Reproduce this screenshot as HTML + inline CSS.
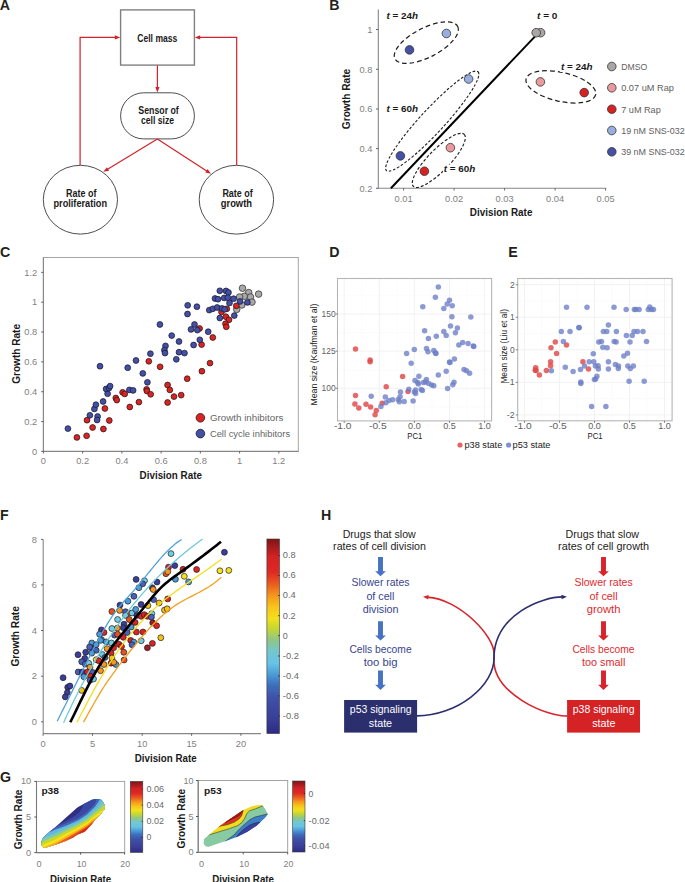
<!DOCTYPE html>
<html><head><meta charset="utf-8"><title>Figure</title>
<style>
html,body{margin:0;padding:0;background:#fff;}
body{width:685px;height:882px;overflow:hidden;}
svg{display:block;}
svg text{font-family:"Liberation Sans", sans-serif;}
</style></head>
<body>
<svg width="685" height="882" viewBox="0 0 685 882">
<rect x="0" y="0" width="685" height="882" fill="#fff"/>
<text x="-0.20" y="9.70" font-size="14.2" font-weight="bold" fill="#231f20">A</text>
<rect x="120.6" y="9.9" width="73.8" height="55.2" fill="#fff" stroke="#808080" stroke-width="1.4"/>
<rect x="120.6" y="92.8" width="73.8" height="46.1" rx="23" ry="23" fill="#fff" stroke="#3a3a3a" stroke-width="0.9"/>
<ellipse cx="80.4" cy="199.7" rx="37.1" ry="34.4" fill="#fff" stroke="#3a3a3a" stroke-width="0.9"/>
<ellipse cx="236.4" cy="199.7" rx="37.2" ry="34.4" fill="#fff" stroke="#3a3a3a" stroke-width="0.9"/>
<polyline points="80.1,165.3 80.1,37.4 115.5,37.4" fill="none" stroke="#d0232b" stroke-width="1.2"/>
<polygon points="120.30,37.40 114.80,39.50 114.80,35.30" fill="#d0232b" stroke="none" stroke-width="1"/>
<polyline points="236.7,165.3 236.7,37.4 199.5,37.4" fill="none" stroke="#d0232b" stroke-width="1.2"/>
<polygon points="194.70,37.40 200.20,35.30 200.20,39.50" fill="#d0232b" stroke="none" stroke-width="1"/>
<line x1="157.40" y1="65.60" x2="157.40" y2="88.00" stroke="#d0232b" stroke-width="1.2"/>
<polygon points="157.40,92.60 155.30,87.10 159.50,87.10" fill="#d0232b" stroke="none" stroke-width="1"/>
<line x1="157.40" y1="139.00" x2="107.60" y2="169.20" stroke="#d0232b" stroke-width="1.2"/>
<polygon points="103.30,171.80 106.91,167.15 109.09,170.74" fill="#d0232b" stroke="none" stroke-width="1"/>
<line x1="157.40" y1="139.00" x2="206.70" y2="171.00" stroke="#d0232b" stroke-width="1.2"/>
<polygon points="211.00,173.80 205.24,172.57 207.53,169.04" fill="#d0232b" stroke="none" stroke-width="1"/>
<text x="137.30" y="41.50" font-size="10.4" font-weight="bold" textLength="40.00" lengthAdjust="spacingAndGlyphs" fill="#1a1a1a">Cell mass</text>
<text x="138.30" y="113.70" font-size="10.3" font-weight="bold" textLength="40.50" lengthAdjust="spacingAndGlyphs" fill="#1a1a1a">Sensor of</text>
<text x="141.00" y="123.90" font-size="10.3" font-weight="bold" textLength="33.10" lengthAdjust="spacingAndGlyphs" fill="#1a1a1a">cell size</text>
<text x="66.10" y="197.20" font-size="10.3" font-weight="bold" textLength="30.30" lengthAdjust="spacingAndGlyphs" fill="#1a1a1a">Rate of</text>
<text x="53.50" y="207.40" font-size="10.3" font-weight="bold" textLength="53.50" lengthAdjust="spacingAndGlyphs" fill="#1a1a1a">proliferation</text>
<text x="222.40" y="197.20" font-size="10.3" font-weight="bold" textLength="30.30" lengthAdjust="spacingAndGlyphs" fill="#1a1a1a">Rate of</text>
<text x="220.80" y="207.40" font-size="10.3" font-weight="bold" textLength="31.20" lengthAdjust="spacingAndGlyphs" fill="#1a1a1a">growth</text>
<text x="329.20" y="9.90" font-size="14.2" font-weight="bold" fill="#231f20">B</text>
<line x1="378.30" y1="9.50" x2="378.30" y2="188.30" stroke="#868686" stroke-width="1.1"/>
<line x1="377.80" y1="188.30" x2="606.20" y2="188.30" stroke="#868686" stroke-width="1.1"/>
<line x1="376.00" y1="29.50" x2="378.30" y2="29.50" stroke="#555" stroke-width="0.9"/>
<text x="372.40" y="32.70" font-size="9.3" text-anchor="end" fill="#7f7f7f">1</text>
<line x1="376.00" y1="69.30" x2="378.30" y2="69.30" stroke="#555" stroke-width="0.9"/>
<text x="372.40" y="72.50" font-size="9.3" text-anchor="end" fill="#7f7f7f">0.8</text>
<line x1="376.00" y1="109.00" x2="378.30" y2="109.00" stroke="#555" stroke-width="0.9"/>
<text x="372.40" y="112.20" font-size="9.3" text-anchor="end" fill="#7f7f7f">0.6</text>
<line x1="376.00" y1="148.60" x2="378.30" y2="148.60" stroke="#555" stroke-width="0.9"/>
<text x="372.40" y="151.80" font-size="9.3" text-anchor="end" fill="#7f7f7f">0.4</text>
<line x1="376.00" y1="188.30" x2="378.30" y2="188.30" stroke="#555" stroke-width="0.9"/>
<text x="372.40" y="191.50" font-size="9.3" text-anchor="end" fill="#7f7f7f">0.2</text>
<line x1="403.60" y1="188.30" x2="403.60" y2="190.50" stroke="#555" stroke-width="0.9"/>
<text x="403.60" y="202.20" font-size="9.3" text-anchor="middle" fill="#7f7f7f">0.01</text>
<line x1="454.10" y1="188.30" x2="454.10" y2="190.50" stroke="#555" stroke-width="0.9"/>
<text x="454.10" y="202.20" font-size="9.3" text-anchor="middle" fill="#7f7f7f">0.02</text>
<line x1="504.60" y1="188.30" x2="504.60" y2="190.50" stroke="#555" stroke-width="0.9"/>
<text x="504.60" y="202.20" font-size="9.3" text-anchor="middle" fill="#7f7f7f">0.03</text>
<line x1="555.10" y1="188.30" x2="555.10" y2="190.50" stroke="#555" stroke-width="0.9"/>
<text x="555.10" y="202.20" font-size="9.3" text-anchor="middle" fill="#7f7f7f">0.04</text>
<line x1="605.60" y1="188.30" x2="605.60" y2="190.50" stroke="#555" stroke-width="0.9"/>
<text x="605.60" y="202.20" font-size="9.3" text-anchor="middle" fill="#7f7f7f">0.05</text>
<text x="469.80" y="216.30" font-size="10.6" font-weight="bold" textLength="62.60" lengthAdjust="spacingAndGlyphs" fill="#1a1a1a">Division Rate</text>
<text x="349.60" y="129.20" font-size="10.6" font-weight="bold" textLength="60.40" lengthAdjust="spacingAndGlyphs" transform="rotate(-90 349.60 129.20)" fill="#1a1a1a">Growth Rate</text>
<ellipse cx="426.34" cy="42.62" rx="35.3" ry="14.6" transform="rotate(-27.3 426.34 42.62)" fill="none" stroke="#1f1f1f" stroke-width="1.25" stroke-dasharray="4.6 3.0"/>
<ellipse cx="432.27" cy="121.19" rx="67.4" ry="11.9" transform="rotate(-47.2 432.27 121.19)" fill="none" stroke="#1f1f1f" stroke-width="1.1" stroke-dasharray="2.7 1.8"/>
<ellipse cx="438.81" cy="160.41" rx="36.4" ry="10.7" transform="rotate(-45.7 438.81 160.41)" fill="none" stroke="#1f1f1f" stroke-width="1.15" stroke-dasharray="3.0 1.9"/>
<ellipse cx="560.87" cy="86.88" rx="35.7" ry="14.5" transform="rotate(12.7 560.87 86.88)" fill="none" stroke="#1f1f1f" stroke-width="1.25" stroke-dasharray="4.8 3.0"/>
<line x1="390.90" y1="188.30" x2="536.00" y2="35.40" stroke="#000" stroke-width="2.0"/>
<circle cx="540.60" cy="32.70" r="4.3" fill="#aaa6a6" stroke="#333333" stroke-width="0.8"/>
<circle cx="536.20" cy="32.70" r="4.3" fill="#aaa6a6" stroke="#333333" stroke-width="0.8"/>
<circle cx="540.40" cy="81.90" r="4.3" fill="#e89a9c" stroke="#333333" stroke-width="0.8"/>
<circle cx="450.40" cy="147.70" r="4.3" fill="#e89a9c" stroke="#333333" stroke-width="0.8"/>
<circle cx="584.20" cy="92.60" r="4.3" fill="#d82222" stroke="#333333" stroke-width="0.8"/>
<circle cx="424.40" cy="171.20" r="4.3" fill="#d82222" stroke="#333333" stroke-width="0.8"/>
<circle cx="446.40" cy="33.50" r="4.3" fill="#98aee0" stroke="#333333" stroke-width="0.8"/>
<circle cx="468.60" cy="79.00" r="4.3" fill="#98aee0" stroke="#333333" stroke-width="0.8"/>
<circle cx="409.50" cy="49.90" r="4.3" fill="#4451a5" stroke="#333333" stroke-width="0.8"/>
<circle cx="400.40" cy="155.90" r="4.3" fill="#4451a5" stroke="#333333" stroke-width="0.8"/>
<rect x="385.60" y="11.00" width="33.20" height="10" fill="#fff"/>
<text x="386.40" y="19.00" font-size="9.3" font-weight="bold" fill="#1a1a1a" textLength="31.60" lengthAdjust="spacingAndGlyphs"><tspan font-style="italic">t</tspan> = 24<tspan font-style="italic">h</tspan></text>
<rect x="385.60" y="103.80" width="33.20" height="10" fill="#fff"/>
<text x="386.40" y="111.80" font-size="9.3" font-weight="bold" fill="#1a1a1a" textLength="31.60" lengthAdjust="spacingAndGlyphs"><tspan font-style="italic">t</tspan> = 60<tspan font-style="italic">h</tspan></text>
<rect x="443.00" y="164.40" width="33.20" height="10" fill="#fff"/>
<text x="443.80" y="172.40" font-size="9.3" font-weight="bold" fill="#1a1a1a" textLength="31.60" lengthAdjust="spacingAndGlyphs"><tspan font-style="italic">t</tspan> = 60<tspan font-style="italic">h</tspan></text>
<rect x="560.10" y="62.00" width="33.20" height="10" fill="#fff"/>
<text x="560.90" y="70.00" font-size="9.3" font-weight="bold" fill="#1a1a1a" textLength="31.60" lengthAdjust="spacingAndGlyphs"><tspan font-style="italic">t</tspan> = 24<tspan font-style="italic">h</tspan></text>
<text x="537.0" y="18.9" font-size="9.3" font-weight="bold" fill="#1a1a1a" textLength="20.4" lengthAdjust="spacingAndGlyphs"><tspan font-style="italic">t</tspan> = 0</text>
<circle cx="611.80" cy="66.50" r="4.3" fill="#aaa6a6" stroke="#333333" stroke-width="0.8"/>
<text x="621.20" y="69.90" font-size="9.2" textLength="26.00" lengthAdjust="spacingAndGlyphs" fill="#5e5e5e">DMSO</text>
<circle cx="611.80" cy="87.80" r="4.3" fill="#e89a9c" stroke="#333333" stroke-width="0.8"/>
<text x="621.20" y="91.20" font-size="9.2" textLength="52.70" lengthAdjust="spacingAndGlyphs" fill="#5e5e5e">0.07 uM Rap</text>
<circle cx="611.80" cy="109.20" r="4.3" fill="#d82222" stroke="#333333" stroke-width="0.8"/>
<text x="621.20" y="112.60" font-size="9.2" textLength="39.60" lengthAdjust="spacingAndGlyphs" fill="#5e5e5e">7 uM Rap</text>
<circle cx="611.80" cy="130.50" r="4.3" fill="#98aee0" stroke="#333333" stroke-width="0.8"/>
<text x="621.20" y="133.90" font-size="9.2" textLength="63.50" lengthAdjust="spacingAndGlyphs" fill="#5e5e5e">19 nM SNS-032</text>
<circle cx="611.80" cy="151.80" r="4.3" fill="#4451a5" stroke="#333333" stroke-width="0.8"/>
<text x="621.20" y="155.20" font-size="9.2" textLength="63.50" lengthAdjust="spacingAndGlyphs" fill="#5e5e5e">39 nM SNS-032</text>
<text x="0.00" y="256.70" font-size="14.2" font-weight="bold" fill="#231f20">C</text>
<rect x="43.4" y="257.5" width="254.9" height="194" fill="none" stroke="#a6a6a6" stroke-width="1"/>
<line x1="43.40" y1="257.50" x2="43.40" y2="451.50" stroke="#868686" stroke-width="1.1"/>
<line x1="43.40" y1="451.40" x2="298.30" y2="451.40" stroke="#868686" stroke-width="1.1"/>
<line x1="41.20" y1="451.40" x2="43.40" y2="451.40" stroke="#555" stroke-width="0.9"/>
<text x="37.20" y="454.60" font-size="9.3" text-anchor="end" fill="#7f7f7f">0</text>
<line x1="43.40" y1="451.40" x2="43.40" y2="453.50" stroke="#555" stroke-width="0.9"/>
<text x="43.40" y="463.80" font-size="9.3" text-anchor="middle" fill="#7f7f7f">0</text>
<line x1="41.20" y1="421.56" x2="43.40" y2="421.56" stroke="#555" stroke-width="0.9"/>
<text x="37.20" y="424.76" font-size="9.3" text-anchor="end" fill="#7f7f7f">0.2</text>
<line x1="82.64" y1="451.40" x2="82.64" y2="453.50" stroke="#555" stroke-width="0.9"/>
<text x="82.64" y="463.80" font-size="9.3" text-anchor="middle" fill="#7f7f7f">0.2</text>
<line x1="41.20" y1="391.72" x2="43.40" y2="391.72" stroke="#555" stroke-width="0.9"/>
<text x="37.20" y="394.92" font-size="9.3" text-anchor="end" fill="#7f7f7f">0.4</text>
<line x1="121.88" y1="451.40" x2="121.88" y2="453.50" stroke="#555" stroke-width="0.9"/>
<text x="121.88" y="463.80" font-size="9.3" text-anchor="middle" fill="#7f7f7f">0.4</text>
<line x1="41.20" y1="361.88" x2="43.40" y2="361.88" stroke="#555" stroke-width="0.9"/>
<text x="37.20" y="365.08" font-size="9.3" text-anchor="end" fill="#7f7f7f">0.6</text>
<line x1="161.12" y1="451.40" x2="161.12" y2="453.50" stroke="#555" stroke-width="0.9"/>
<text x="161.12" y="463.80" font-size="9.3" text-anchor="middle" fill="#7f7f7f">0.6</text>
<line x1="41.20" y1="332.04" x2="43.40" y2="332.04" stroke="#555" stroke-width="0.9"/>
<text x="37.20" y="335.24" font-size="9.3" text-anchor="end" fill="#7f7f7f">0.8</text>
<line x1="200.36" y1="451.40" x2="200.36" y2="453.50" stroke="#555" stroke-width="0.9"/>
<text x="200.36" y="463.80" font-size="9.3" text-anchor="middle" fill="#7f7f7f">0.8</text>
<line x1="41.20" y1="302.20" x2="43.40" y2="302.20" stroke="#555" stroke-width="0.9"/>
<text x="37.20" y="305.40" font-size="9.3" text-anchor="end" fill="#7f7f7f">1</text>
<line x1="239.60" y1="451.40" x2="239.60" y2="453.50" stroke="#555" stroke-width="0.9"/>
<text x="239.60" y="463.80" font-size="9.3" text-anchor="middle" fill="#7f7f7f">1</text>
<line x1="41.20" y1="272.36" x2="43.40" y2="272.36" stroke="#555" stroke-width="0.9"/>
<text x="37.20" y="275.56" font-size="9.3" text-anchor="end" fill="#7f7f7f">1.2</text>
<line x1="278.84" y1="451.40" x2="278.84" y2="453.50" stroke="#555" stroke-width="0.9"/>
<text x="278.84" y="463.80" font-size="9.3" text-anchor="middle" fill="#7f7f7f">1.2</text>
<text x="139.60" y="478.70" font-size="10.6" font-weight="bold" textLength="62.30" lengthAdjust="spacingAndGlyphs" fill="#1a1a1a">Division Rate</text>
<text x="19.70" y="383.80" font-size="10.6" font-weight="bold" textLength="59.80" lengthAdjust="spacingAndGlyphs" transform="rotate(-90 19.70 383.80)" fill="#1a1a1a">Growth Rate</text>
<circle cx="242.50" cy="288.20" r="3.3" fill="#a9a7a7" stroke="#333" stroke-width="0.75"/>
<circle cx="258.60" cy="294.10" r="3.3" fill="#a9a7a7" stroke="#333" stroke-width="0.75"/>
<circle cx="248.70" cy="292.60" r="3.3" fill="#a9a7a7" stroke="#333" stroke-width="0.75"/>
<circle cx="244.30" cy="296.30" r="3.3" fill="#a9a7a7" stroke="#333" stroke-width="0.75"/>
<circle cx="250.50" cy="297.00" r="3.3" fill="#a9a7a7" stroke="#333" stroke-width="0.75"/>
<circle cx="239.60" cy="297.00" r="3.3" fill="#a9a7a7" stroke="#333" stroke-width="0.75"/>
<circle cx="252.00" cy="302.10" r="3.3" fill="#a9a7a7" stroke="#333" stroke-width="0.75"/>
<circle cx="241.80" cy="305.00" r="3.3" fill="#a9a7a7" stroke="#333" stroke-width="0.75"/>
<circle cx="236.70" cy="309.40" r="3.3" fill="#a9a7a7" stroke="#333" stroke-width="0.75"/>
<circle cx="76.90" cy="437.40" r="2.9" fill="#dc2323" stroke="#2a1515" stroke-width="0.75"/>
<circle cx="86.60" cy="435.80" r="2.9" fill="#dc2323" stroke="#2a1515" stroke-width="0.75"/>
<circle cx="92.60" cy="427.50" r="2.9" fill="#dc2323" stroke="#2a1515" stroke-width="0.75"/>
<circle cx="103.40" cy="429.00" r="2.9" fill="#dc2323" stroke="#2a1515" stroke-width="0.75"/>
<circle cx="87.00" cy="420.20" r="2.9" fill="#dc2323" stroke="#2a1515" stroke-width="0.75"/>
<circle cx="109.30" cy="420.50" r="2.9" fill="#dc2323" stroke="#2a1515" stroke-width="0.75"/>
<circle cx="104.90" cy="408.50" r="2.9" fill="#dc2323" stroke="#2a1515" stroke-width="0.75"/>
<circle cx="115.80" cy="398.00" r="2.9" fill="#dc2323" stroke="#2a1515" stroke-width="0.75"/>
<circle cx="116.80" cy="400.10" r="2.9" fill="#dc2323" stroke="#2a1515" stroke-width="0.75"/>
<circle cx="122.60" cy="392.30" r="2.9" fill="#dc2323" stroke="#2a1515" stroke-width="0.75"/>
<circle cx="124.70" cy="393.90" r="2.9" fill="#dc2323" stroke="#2a1515" stroke-width="0.75"/>
<circle cx="129.80" cy="407.00" r="2.9" fill="#dc2323" stroke="#2a1515" stroke-width="0.75"/>
<circle cx="138.90" cy="402.10" r="2.9" fill="#dc2323" stroke="#2a1515" stroke-width="0.75"/>
<circle cx="146.60" cy="389.30" r="2.9" fill="#dc2323" stroke="#2a1515" stroke-width="0.75"/>
<circle cx="146.90" cy="391.00" r="2.9" fill="#dc2323" stroke="#2a1515" stroke-width="0.75"/>
<circle cx="150.70" cy="394.30" r="2.9" fill="#dc2323" stroke="#2a1515" stroke-width="0.75"/>
<circle cx="167.60" cy="385.00" r="2.9" fill="#dc2323" stroke="#2a1515" stroke-width="0.75"/>
<circle cx="169.80" cy="389.90" r="2.9" fill="#dc2323" stroke="#2a1515" stroke-width="0.75"/>
<circle cx="174.00" cy="396.60" r="2.9" fill="#dc2323" stroke="#2a1515" stroke-width="0.75"/>
<circle cx="181.20" cy="395.10" r="2.9" fill="#dc2323" stroke="#2a1515" stroke-width="0.75"/>
<circle cx="167.60" cy="402.50" r="2.9" fill="#dc2323" stroke="#2a1515" stroke-width="0.75"/>
<circle cx="187.20" cy="378.70" r="2.9" fill="#dc2323" stroke="#2a1515" stroke-width="0.75"/>
<circle cx="201.90" cy="371.20" r="2.9" fill="#dc2323" stroke="#2a1515" stroke-width="0.75"/>
<circle cx="210.00" cy="363.10" r="2.9" fill="#dc2323" stroke="#2a1515" stroke-width="0.75"/>
<circle cx="148.80" cy="361.30" r="2.9" fill="#dc2323" stroke="#2a1515" stroke-width="0.75"/>
<circle cx="160.10" cy="366.80" r="2.9" fill="#dc2323" stroke="#2a1515" stroke-width="0.75"/>
<circle cx="201.60" cy="344.60" r="2.9" fill="#dc2323" stroke="#2a1515" stroke-width="0.75"/>
<circle cx="212.80" cy="337.50" r="2.9" fill="#dc2323" stroke="#2a1515" stroke-width="0.75"/>
<circle cx="199.60" cy="328.50" r="2.9" fill="#dc2323" stroke="#2a1515" stroke-width="0.75"/>
<circle cx="221.50" cy="311.90" r="2.9" fill="#dc2323" stroke="#2a1515" stroke-width="0.75"/>
<circle cx="226.80" cy="308.80" r="2.9" fill="#dc2323" stroke="#2a1515" stroke-width="0.75"/>
<circle cx="236.30" cy="305.80" r="2.9" fill="#dc2323" stroke="#2a1515" stroke-width="0.75"/>
<circle cx="225.90" cy="316.70" r="2.9" fill="#dc2323" stroke="#2a1515" stroke-width="0.75"/>
<circle cx="229.00" cy="319.80" r="2.9" fill="#dc2323" stroke="#2a1515" stroke-width="0.75"/>
<circle cx="225.50" cy="323.70" r="2.9" fill="#dc2323" stroke="#2a1515" stroke-width="0.75"/>
<circle cx="226.30" cy="326.80" r="2.9" fill="#dc2323" stroke="#2a1515" stroke-width="0.75"/>
<circle cx="67.90" cy="428.60" r="2.9" fill="#4350a6" stroke="#181830" stroke-width="0.75"/>
<circle cx="89.90" cy="415.30" r="2.9" fill="#4350a6" stroke="#181830" stroke-width="0.75"/>
<circle cx="97.60" cy="416.50" r="2.9" fill="#4350a6" stroke="#181830" stroke-width="0.75"/>
<circle cx="97.10" cy="420.00" r="2.9" fill="#4350a6" stroke="#181830" stroke-width="0.75"/>
<circle cx="94.40" cy="408.90" r="2.9" fill="#4350a6" stroke="#181830" stroke-width="0.75"/>
<circle cx="95.90" cy="404.70" r="2.9" fill="#4350a6" stroke="#181830" stroke-width="0.75"/>
<circle cx="103.10" cy="401.50" r="2.9" fill="#4350a6" stroke="#181830" stroke-width="0.75"/>
<circle cx="107.60" cy="393.70" r="2.9" fill="#4350a6" stroke="#181830" stroke-width="0.75"/>
<circle cx="106.10" cy="388.90" r="2.9" fill="#4350a6" stroke="#181830" stroke-width="0.75"/>
<circle cx="109.00" cy="388.10" r="2.9" fill="#4350a6" stroke="#181830" stroke-width="0.75"/>
<circle cx="110.10" cy="386.10" r="2.9" fill="#4350a6" stroke="#181830" stroke-width="0.75"/>
<circle cx="129.40" cy="389.90" r="2.9" fill="#4350a6" stroke="#181830" stroke-width="0.75"/>
<circle cx="133.10" cy="390.40" r="2.9" fill="#4350a6" stroke="#181830" stroke-width="0.75"/>
<circle cx="127.70" cy="367.70" r="2.9" fill="#4350a6" stroke="#181830" stroke-width="0.75"/>
<circle cx="100.00" cy="366.20" r="2.9" fill="#4350a6" stroke="#181830" stroke-width="0.75"/>
<circle cx="142.80" cy="373.40" r="2.9" fill="#4350a6" stroke="#181830" stroke-width="0.75"/>
<circle cx="147.40" cy="382.30" r="2.9" fill="#4350a6" stroke="#181830" stroke-width="0.75"/>
<circle cx="136.00" cy="360.50" r="2.9" fill="#4350a6" stroke="#181830" stroke-width="0.75"/>
<circle cx="150.40" cy="353.70" r="2.9" fill="#4350a6" stroke="#181830" stroke-width="0.75"/>
<circle cx="165.50" cy="345.90" r="2.9" fill="#4350a6" stroke="#181830" stroke-width="0.75"/>
<circle cx="164.40" cy="350.20" r="2.9" fill="#4350a6" stroke="#181830" stroke-width="0.75"/>
<circle cx="165.00" cy="353.10" r="2.9" fill="#4350a6" stroke="#181830" stroke-width="0.75"/>
<circle cx="159.90" cy="324.50" r="2.9" fill="#4350a6" stroke="#181830" stroke-width="0.75"/>
<circle cx="171.70" cy="335.60" r="2.9" fill="#4350a6" stroke="#181830" stroke-width="0.75"/>
<circle cx="179.00" cy="341.50" r="2.9" fill="#4350a6" stroke="#181830" stroke-width="0.75"/>
<circle cx="179.00" cy="352.20" r="2.9" fill="#4350a6" stroke="#181830" stroke-width="0.75"/>
<circle cx="184.50" cy="353.10" r="2.9" fill="#4350a6" stroke="#181830" stroke-width="0.75"/>
<circle cx="176.30" cy="359.30" r="2.9" fill="#4350a6" stroke="#181830" stroke-width="0.75"/>
<circle cx="193.60" cy="345.00" r="2.9" fill="#4350a6" stroke="#181830" stroke-width="0.75"/>
<circle cx="199.80" cy="339.80" r="2.9" fill="#4350a6" stroke="#181830" stroke-width="0.75"/>
<circle cx="187.70" cy="305.30" r="2.9" fill="#4350a6" stroke="#181830" stroke-width="0.75"/>
<circle cx="196.90" cy="306.70" r="2.9" fill="#4350a6" stroke="#181830" stroke-width="0.75"/>
<circle cx="187.50" cy="314.00" r="2.9" fill="#4350a6" stroke="#181830" stroke-width="0.75"/>
<circle cx="194.50" cy="324.50" r="2.9" fill="#4350a6" stroke="#181830" stroke-width="0.75"/>
<circle cx="191.00" cy="329.40" r="2.9" fill="#4350a6" stroke="#181830" stroke-width="0.75"/>
<circle cx="197.30" cy="330.10" r="2.9" fill="#4350a6" stroke="#181830" stroke-width="0.75"/>
<circle cx="208.20" cy="331.70" r="2.9" fill="#4350a6" stroke="#181830" stroke-width="0.75"/>
<circle cx="209.30" cy="310.10" r="2.9" fill="#4350a6" stroke="#181830" stroke-width="0.75"/>
<circle cx="212.80" cy="308.80" r="2.9" fill="#4350a6" stroke="#181830" stroke-width="0.75"/>
<circle cx="217.20" cy="307.50" r="2.9" fill="#4350a6" stroke="#181830" stroke-width="0.75"/>
<circle cx="222.00" cy="308.40" r="2.9" fill="#4350a6" stroke="#181830" stroke-width="0.75"/>
<circle cx="224.60" cy="309.30" r="2.9" fill="#4350a6" stroke="#181830" stroke-width="0.75"/>
<circle cx="219.80" cy="318.00" r="2.9" fill="#4350a6" stroke="#181830" stroke-width="0.75"/>
<circle cx="234.30" cy="315.60" r="2.9" fill="#4350a6" stroke="#181830" stroke-width="0.75"/>
<circle cx="219.80" cy="290.80" r="2.9" fill="#4350a6" stroke="#181830" stroke-width="0.75"/>
<circle cx="226.00" cy="290.90" r="2.9" fill="#4350a6" stroke="#181830" stroke-width="0.75"/>
<circle cx="228.50" cy="292.50" r="2.9" fill="#4350a6" stroke="#181830" stroke-width="0.75"/>
<circle cx="215.00" cy="298.50" r="2.9" fill="#4350a6" stroke="#181830" stroke-width="0.75"/>
<circle cx="218.00" cy="299.20" r="2.9" fill="#4350a6" stroke="#181830" stroke-width="0.75"/>
<circle cx="224.20" cy="297.90" r="2.9" fill="#4350a6" stroke="#181830" stroke-width="0.75"/>
<circle cx="227.80" cy="297.70" r="2.9" fill="#4350a6" stroke="#181830" stroke-width="0.75"/>
<circle cx="233.60" cy="298.70" r="2.9" fill="#4350a6" stroke="#181830" stroke-width="0.75"/>
<circle cx="229.50" cy="303.00" r="2.9" fill="#4350a6" stroke="#181830" stroke-width="0.75"/>
<circle cx="240.00" cy="301.40" r="2.9" fill="#4350a6" stroke="#181830" stroke-width="0.75"/>
<circle cx="247.40" cy="302.40" r="2.9" fill="#4350a6" stroke="#181830" stroke-width="0.75"/>
<circle cx="200.40" cy="417.80" r="4.3" fill="#dc2323" stroke="#2a1515" stroke-width="0.8"/>
<circle cx="200.40" cy="433.60" r="4.3" fill="#4350a6" stroke="#181830" stroke-width="0.8"/>
<text x="209.90" y="421.10" font-size="9.6" textLength="73.40" lengthAdjust="spacingAndGlyphs" fill="#666">Growth inhibitors</text>
<text x="209.90" y="436.60" font-size="9.6" textLength="80.20" lengthAdjust="spacingAndGlyphs" fill="#666">Cell cycle inhibitors</text>
<rect x="337.5" y="278.5" width="154.10" height="142.40" fill="#fff"/>
<line x1="361.75" y1="278.50" x2="361.75" y2="420.90" stroke="#f8f8f8" stroke-width="0.6"/>
<line x1="396.85" y1="278.50" x2="396.85" y2="420.90" stroke="#f8f8f8" stroke-width="0.6"/>
<line x1="431.95" y1="278.50" x2="431.95" y2="420.90" stroke="#f8f8f8" stroke-width="0.6"/>
<line x1="467.05" y1="278.50" x2="467.05" y2="420.90" stroke="#f8f8f8" stroke-width="0.6"/>
<line x1="337.50" y1="406.88" x2="491.60" y2="406.88" stroke="#f8f8f8" stroke-width="0.6"/>
<line x1="337.50" y1="369.73" x2="491.60" y2="369.73" stroke="#f8f8f8" stroke-width="0.6"/>
<line x1="337.50" y1="332.57" x2="491.60" y2="332.57" stroke="#f8f8f8" stroke-width="0.6"/>
<line x1="337.50" y1="295.43" x2="491.60" y2="295.43" stroke="#f8f8f8" stroke-width="0.6"/>
<line x1="344.20" y1="278.50" x2="344.20" y2="420.90" stroke="#f0f0f0" stroke-width="0.9"/>
<line x1="379.30" y1="278.50" x2="379.30" y2="420.90" stroke="#f0f0f0" stroke-width="0.9"/>
<line x1="414.40" y1="278.50" x2="414.40" y2="420.90" stroke="#f0f0f0" stroke-width="0.9"/>
<line x1="449.50" y1="278.50" x2="449.50" y2="420.90" stroke="#f0f0f0" stroke-width="0.9"/>
<line x1="484.60" y1="278.50" x2="484.60" y2="420.90" stroke="#f0f0f0" stroke-width="0.9"/>
<line x1="337.50" y1="388.30" x2="491.60" y2="388.30" stroke="#f0f0f0" stroke-width="0.9"/>
<line x1="337.50" y1="351.15" x2="491.60" y2="351.15" stroke="#f0f0f0" stroke-width="0.9"/>
<line x1="337.50" y1="314.00" x2="491.60" y2="314.00" stroke="#f0f0f0" stroke-width="0.9"/>
<circle cx="355.50" cy="349.10" r="2.75" fill="#e04848" stroke="none" stroke-width="0.6" fill-opacity="0.82"/>
<circle cx="370.10" cy="360.10" r="2.75" fill="#e04848" stroke="none" stroke-width="0.6" fill-opacity="0.82"/>
<circle cx="370.10" cy="361.70" r="2.75" fill="#e04848" stroke="none" stroke-width="0.6" fill-opacity="0.82"/>
<circle cx="402.60" cy="376.60" r="2.75" fill="#e04848" stroke="none" stroke-width="0.6" fill-opacity="0.82"/>
<circle cx="386.20" cy="386.80" r="2.75" fill="#e04848" stroke="none" stroke-width="0.6" fill-opacity="0.82"/>
<circle cx="408.00" cy="391.50" r="2.75" fill="#e04848" stroke="none" stroke-width="0.6" fill-opacity="0.82"/>
<circle cx="355.50" cy="395.50" r="2.75" fill="#e04848" stroke="none" stroke-width="0.6" fill-opacity="0.82"/>
<circle cx="354.90" cy="403.90" r="2.75" fill="#e04848" stroke="none" stroke-width="0.6" fill-opacity="0.82"/>
<circle cx="358.80" cy="408.00" r="2.75" fill="#e04848" stroke="none" stroke-width="0.6" fill-opacity="0.82"/>
<circle cx="366.00" cy="404.20" r="2.75" fill="#e04848" stroke="none" stroke-width="0.6" fill-opacity="0.82"/>
<circle cx="370.60" cy="407.00" r="2.75" fill="#e04848" stroke="none" stroke-width="0.6" fill-opacity="0.82"/>
<circle cx="376.30" cy="410.50" r="2.75" fill="#e04848" stroke="none" stroke-width="0.6" fill-opacity="0.82"/>
<circle cx="375.10" cy="414.80" r="2.75" fill="#e04848" stroke="none" stroke-width="0.6" fill-opacity="0.82"/>
<circle cx="382.20" cy="403.30" r="2.75" fill="#e04848" stroke="none" stroke-width="0.6" fill-opacity="0.82"/>
<circle cx="438.30" cy="287.00" r="2.75" fill="#6b7dc6" stroke="none" stroke-width="0.6" fill-opacity="0.78"/>
<circle cx="435.40" cy="297.30" r="2.75" fill="#6b7dc6" stroke="none" stroke-width="0.6" fill-opacity="0.78"/>
<circle cx="449.50" cy="300.20" r="2.75" fill="#6b7dc6" stroke="none" stroke-width="0.6" fill-opacity="0.78"/>
<circle cx="447.20" cy="303.90" r="2.75" fill="#6b7dc6" stroke="none" stroke-width="0.6" fill-opacity="0.78"/>
<circle cx="452.20" cy="305.80" r="2.75" fill="#6b7dc6" stroke="none" stroke-width="0.6" fill-opacity="0.78"/>
<circle cx="443.80" cy="308.50" r="2.75" fill="#6b7dc6" stroke="none" stroke-width="0.6" fill-opacity="0.78"/>
<circle cx="422.80" cy="306.80" r="2.75" fill="#6b7dc6" stroke="none" stroke-width="0.6" fill-opacity="0.78"/>
<circle cx="451.90" cy="316.70" r="2.75" fill="#6b7dc6" stroke="none" stroke-width="0.6" fill-opacity="0.78"/>
<circle cx="470.80" cy="317.00" r="2.75" fill="#6b7dc6" stroke="none" stroke-width="0.6" fill-opacity="0.78"/>
<circle cx="450.50" cy="325.90" r="2.75" fill="#6b7dc6" stroke="none" stroke-width="0.6" fill-opacity="0.78"/>
<circle cx="457.40" cy="328.00" r="2.75" fill="#6b7dc6" stroke="none" stroke-width="0.6" fill-opacity="0.78"/>
<circle cx="424.60" cy="330.80" r="2.75" fill="#6b7dc6" stroke="none" stroke-width="0.6" fill-opacity="0.78"/>
<circle cx="443.80" cy="331.50" r="2.75" fill="#6b7dc6" stroke="none" stroke-width="0.6" fill-opacity="0.78"/>
<circle cx="455.40" cy="332.70" r="2.75" fill="#6b7dc6" stroke="none" stroke-width="0.6" fill-opacity="0.78"/>
<circle cx="446.20" cy="335.40" r="2.75" fill="#6b7dc6" stroke="none" stroke-width="0.6" fill-opacity="0.78"/>
<circle cx="436.30" cy="336.30" r="2.75" fill="#6b7dc6" stroke="none" stroke-width="0.6" fill-opacity="0.78"/>
<circle cx="428.40" cy="338.60" r="2.75" fill="#6b7dc6" stroke="none" stroke-width="0.6" fill-opacity="0.78"/>
<circle cx="462.70" cy="342.40" r="2.75" fill="#6b7dc6" stroke="none" stroke-width="0.6" fill-opacity="0.78"/>
<circle cx="458.80" cy="345.10" r="2.75" fill="#6b7dc6" stroke="none" stroke-width="0.6" fill-opacity="0.78"/>
<circle cx="468.10" cy="343.60" r="2.75" fill="#6b7dc6" stroke="none" stroke-width="0.6" fill-opacity="0.78"/>
<circle cx="473.30" cy="346.00" r="2.75" fill="#6b7dc6" stroke="none" stroke-width="0.6" fill-opacity="0.78"/>
<circle cx="473.80" cy="346.50" r="2.75" fill="#6b7dc6" stroke="none" stroke-width="0.6" fill-opacity="0.78"/>
<circle cx="414.30" cy="349.40" r="2.75" fill="#6b7dc6" stroke="none" stroke-width="0.6" fill-opacity="0.78"/>
<circle cx="426.50" cy="348.60" r="2.75" fill="#6b7dc6" stroke="none" stroke-width="0.6" fill-opacity="0.78"/>
<circle cx="428.00" cy="351.80" r="2.75" fill="#6b7dc6" stroke="none" stroke-width="0.6" fill-opacity="0.78"/>
<circle cx="433.80" cy="350.40" r="2.75" fill="#6b7dc6" stroke="none" stroke-width="0.6" fill-opacity="0.78"/>
<circle cx="435.40" cy="353.00" r="2.75" fill="#6b7dc6" stroke="none" stroke-width="0.6" fill-opacity="0.78"/>
<circle cx="436.00" cy="353.50" r="2.75" fill="#6b7dc6" stroke="none" stroke-width="0.6" fill-opacity="0.78"/>
<circle cx="411.20" cy="363.20" r="2.75" fill="#6b7dc6" stroke="none" stroke-width="0.6" fill-opacity="0.78"/>
<circle cx="449.50" cy="362.10" r="2.75" fill="#6b7dc6" stroke="none" stroke-width="0.6" fill-opacity="0.78"/>
<circle cx="450.00" cy="362.50" r="2.75" fill="#6b7dc6" stroke="none" stroke-width="0.6" fill-opacity="0.78"/>
<circle cx="454.40" cy="359.00" r="2.75" fill="#6b7dc6" stroke="none" stroke-width="0.6" fill-opacity="0.78"/>
<circle cx="446.20" cy="371.30" r="2.75" fill="#6b7dc6" stroke="none" stroke-width="0.6" fill-opacity="0.78"/>
<circle cx="438.30" cy="375.10" r="2.75" fill="#6b7dc6" stroke="none" stroke-width="0.6" fill-opacity="0.78"/>
<circle cx="464.00" cy="369.50" r="2.75" fill="#6b7dc6" stroke="none" stroke-width="0.6" fill-opacity="0.78"/>
<circle cx="466.50" cy="370.80" r="2.75" fill="#6b7dc6" stroke="none" stroke-width="0.6" fill-opacity="0.78"/>
<circle cx="469.60" cy="373.30" r="2.75" fill="#6b7dc6" stroke="none" stroke-width="0.6" fill-opacity="0.78"/>
<circle cx="418.90" cy="376.20" r="2.75" fill="#6b7dc6" stroke="none" stroke-width="0.6" fill-opacity="0.78"/>
<circle cx="415.00" cy="380.60" r="2.75" fill="#6b7dc6" stroke="none" stroke-width="0.6" fill-opacity="0.78"/>
<circle cx="417.70" cy="382.40" r="2.75" fill="#6b7dc6" stroke="none" stroke-width="0.6" fill-opacity="0.78"/>
<circle cx="418.40" cy="384.00" r="2.75" fill="#6b7dc6" stroke="none" stroke-width="0.6" fill-opacity="0.78"/>
<circle cx="423.40" cy="382.60" r="2.75" fill="#6b7dc6" stroke="none" stroke-width="0.6" fill-opacity="0.78"/>
<circle cx="426.40" cy="379.50" r="2.75" fill="#6b7dc6" stroke="none" stroke-width="0.6" fill-opacity="0.78"/>
<circle cx="425.50" cy="382.00" r="2.75" fill="#6b7dc6" stroke="none" stroke-width="0.6" fill-opacity="0.78"/>
<circle cx="428.60" cy="383.40" r="2.75" fill="#6b7dc6" stroke="none" stroke-width="0.6" fill-opacity="0.78"/>
<circle cx="431.70" cy="384.90" r="2.75" fill="#6b7dc6" stroke="none" stroke-width="0.6" fill-opacity="0.78"/>
<circle cx="433.80" cy="385.70" r="2.75" fill="#6b7dc6" stroke="none" stroke-width="0.6" fill-opacity="0.78"/>
<circle cx="454.00" cy="382.20" r="2.75" fill="#6b7dc6" stroke="none" stroke-width="0.6" fill-opacity="0.78"/>
<circle cx="452.80" cy="384.70" r="2.75" fill="#6b7dc6" stroke="none" stroke-width="0.6" fill-opacity="0.78"/>
<circle cx="447.60" cy="388.60" r="2.75" fill="#6b7dc6" stroke="none" stroke-width="0.6" fill-opacity="0.78"/>
<circle cx="415.60" cy="390.00" r="2.75" fill="#6b7dc6" stroke="none" stroke-width="0.6" fill-opacity="0.78"/>
<circle cx="414.30" cy="392.10" r="2.75" fill="#6b7dc6" stroke="none" stroke-width="0.6" fill-opacity="0.78"/>
<circle cx="415.60" cy="393.60" r="2.75" fill="#6b7dc6" stroke="none" stroke-width="0.6" fill-opacity="0.78"/>
<circle cx="421.20" cy="389.40" r="2.75" fill="#6b7dc6" stroke="none" stroke-width="0.6" fill-opacity="0.78"/>
<circle cx="422.40" cy="390.60" r="2.75" fill="#6b7dc6" stroke="none" stroke-width="0.6" fill-opacity="0.78"/>
<circle cx="413.10" cy="401.00" r="2.75" fill="#6b7dc6" stroke="none" stroke-width="0.6" fill-opacity="0.78"/>
<circle cx="406.60" cy="353.40" r="2.75" fill="#6b7dc6" stroke="none" stroke-width="0.6" fill-opacity="0.78"/>
<circle cx="408.80" cy="389.30" r="2.75" fill="#6b7dc6" stroke="none" stroke-width="0.6" fill-opacity="0.78"/>
<circle cx="400.50" cy="392.10" r="2.75" fill="#6b7dc6" stroke="none" stroke-width="0.6" fill-opacity="0.78"/>
<circle cx="400.10" cy="396.70" r="2.75" fill="#6b7dc6" stroke="none" stroke-width="0.6" fill-opacity="0.78"/>
<circle cx="398.30" cy="399.60" r="2.75" fill="#6b7dc6" stroke="none" stroke-width="0.6" fill-opacity="0.78"/>
<circle cx="399.30" cy="401.80" r="2.75" fill="#6b7dc6" stroke="none" stroke-width="0.6" fill-opacity="0.78"/>
<circle cx="404.20" cy="401.40" r="2.75" fill="#6b7dc6" stroke="none" stroke-width="0.6" fill-opacity="0.78"/>
<circle cx="371.20" cy="396.20" r="2.75" fill="#6b7dc6" stroke="none" stroke-width="0.6" fill-opacity="0.78"/>
<circle cx="385.30" cy="397.10" r="2.75" fill="#6b7dc6" stroke="none" stroke-width="0.6" fill-opacity="0.78"/>
<circle cx="389.00" cy="400.40" r="2.75" fill="#6b7dc6" stroke="none" stroke-width="0.6" fill-opacity="0.78"/>
<circle cx="392.70" cy="399.80" r="2.75" fill="#6b7dc6" stroke="none" stroke-width="0.6" fill-opacity="0.78"/>
<circle cx="385.90" cy="402.70" r="2.75" fill="#6b7dc6" stroke="none" stroke-width="0.6" fill-opacity="0.78"/>
<circle cx="380.90" cy="406.40" r="2.75" fill="#6b7dc6" stroke="none" stroke-width="0.6" fill-opacity="0.78"/>
<rect x="337.5" y="278.5" width="154.10" height="142.40" fill="none" stroke="#b5b5b5" stroke-width="1.1"/>
<line x1="344.20" y1="420.90" x2="344.20" y2="422.90" stroke="#666" stroke-width="0.8"/>
<line x1="379.30" y1="420.90" x2="379.30" y2="422.90" stroke="#666" stroke-width="0.8"/>
<line x1="414.40" y1="420.90" x2="414.40" y2="422.90" stroke="#666" stroke-width="0.8"/>
<line x1="449.50" y1="420.90" x2="449.50" y2="422.90" stroke="#666" stroke-width="0.8"/>
<line x1="484.60" y1="420.90" x2="484.60" y2="422.90" stroke="#666" stroke-width="0.8"/>
<line x1="335.50" y1="388.30" x2="337.50" y2="388.30" stroke="#666" stroke-width="0.8"/>
<line x1="335.50" y1="351.15" x2="337.50" y2="351.15" stroke="#666" stroke-width="0.8"/>
<line x1="335.50" y1="314.00" x2="337.50" y2="314.00" stroke="#666" stroke-width="0.8"/>
<text x="335.60" y="391.30" font-size="8.5" text-anchor="end" textLength="14.00" lengthAdjust="spacingAndGlyphs" fill="#606060">100</text>
<text x="335.60" y="354.15" font-size="8.5" text-anchor="end" textLength="14.00" lengthAdjust="spacingAndGlyphs" fill="#606060">125</text>
<text x="335.60" y="317.00" font-size="8.5" text-anchor="end" textLength="14.00" lengthAdjust="spacingAndGlyphs" fill="#606060">150</text>
<text x="342.70" y="428.90" font-size="8.5" text-anchor="middle" textLength="17.60" lengthAdjust="spacingAndGlyphs" fill="#606060">-1.0</text>
<text x="377.80" y="428.90" font-size="8.5" text-anchor="middle" textLength="17.60" lengthAdjust="spacingAndGlyphs" fill="#606060">-0.5</text>
<text x="414.40" y="428.90" font-size="8.5" text-anchor="middle" textLength="12.60" lengthAdjust="spacingAndGlyphs" fill="#606060">0.0</text>
<text x="449.50" y="428.90" font-size="8.5" text-anchor="middle" textLength="12.60" lengthAdjust="spacingAndGlyphs" fill="#606060">0.5</text>
<text x="484.60" y="428.90" font-size="8.5" text-anchor="middle" textLength="12.60" lengthAdjust="spacingAndGlyphs" fill="#606060">1.0</text>
<text x="407.30" y="439.30" font-size="9.3" textLength="15.00" lengthAdjust="spacingAndGlyphs" fill="#222">PC1</text>
<text x="317.40" y="405.50" font-size="9.3" textLength="101.90" lengthAdjust="spacingAndGlyphs" transform="rotate(-90 317.40 405.50)" fill="#222">Mean size (Kaufman et al)</text>
<text x="329.20" y="256.60" font-size="14.2" font-weight="bold" fill="#231f20">D</text>
<rect x="517.7" y="278.5" width="154.40" height="142.30" fill="#fff"/>
<line x1="542.00" y1="278.50" x2="542.00" y2="420.80" stroke="#f8f8f8" stroke-width="0.6"/>
<line x1="577.00" y1="278.50" x2="577.00" y2="420.80" stroke="#f8f8f8" stroke-width="0.6"/>
<line x1="612.00" y1="278.50" x2="612.00" y2="420.80" stroke="#f8f8f8" stroke-width="0.6"/>
<line x1="647.00" y1="278.50" x2="647.00" y2="420.80" stroke="#f8f8f8" stroke-width="0.6"/>
<line x1="517.70" y1="398.62" x2="672.10" y2="398.62" stroke="#f8f8f8" stroke-width="0.6"/>
<line x1="517.70" y1="366.07" x2="672.10" y2="366.07" stroke="#f8f8f8" stroke-width="0.6"/>
<line x1="517.70" y1="333.53" x2="672.10" y2="333.53" stroke="#f8f8f8" stroke-width="0.6"/>
<line x1="517.70" y1="300.98" x2="672.10" y2="300.98" stroke="#f8f8f8" stroke-width="0.6"/>
<line x1="524.50" y1="278.50" x2="524.50" y2="420.80" stroke="#f0f0f0" stroke-width="0.9"/>
<line x1="559.50" y1="278.50" x2="559.50" y2="420.80" stroke="#f0f0f0" stroke-width="0.9"/>
<line x1="594.50" y1="278.50" x2="594.50" y2="420.80" stroke="#f0f0f0" stroke-width="0.9"/>
<line x1="629.50" y1="278.50" x2="629.50" y2="420.80" stroke="#f0f0f0" stroke-width="0.9"/>
<line x1="664.50" y1="278.50" x2="664.50" y2="420.80" stroke="#f0f0f0" stroke-width="0.9"/>
<line x1="517.70" y1="414.90" x2="672.10" y2="414.90" stroke="#f0f0f0" stroke-width="0.9"/>
<line x1="517.70" y1="382.35" x2="672.10" y2="382.35" stroke="#f0f0f0" stroke-width="0.9"/>
<line x1="517.70" y1="349.80" x2="672.10" y2="349.80" stroke="#f0f0f0" stroke-width="0.9"/>
<line x1="517.70" y1="317.25" x2="672.10" y2="317.25" stroke="#f0f0f0" stroke-width="0.9"/>
<line x1="517.70" y1="284.70" x2="672.10" y2="284.70" stroke="#f0f0f0" stroke-width="0.9"/>
<circle cx="555.30" cy="342.00" r="2.75" fill="#e04848" stroke="none" stroke-width="0.6" fill-opacity="0.82"/>
<circle cx="566.50" cy="345.10" r="2.75" fill="#e04848" stroke="none" stroke-width="0.6" fill-opacity="0.82"/>
<circle cx="551.00" cy="347.80" r="2.75" fill="#e04848" stroke="none" stroke-width="0.6" fill-opacity="0.82"/>
<circle cx="556.60" cy="353.40" r="2.75" fill="#e04848" stroke="none" stroke-width="0.6" fill-opacity="0.82"/>
<circle cx="550.60" cy="361.80" r="2.75" fill="#e04848" stroke="none" stroke-width="0.6" fill-opacity="0.82"/>
<circle cx="550.60" cy="365.80" r="2.75" fill="#e04848" stroke="none" stroke-width="0.6" fill-opacity="0.82"/>
<circle cx="535.70" cy="367.70" r="2.75" fill="#e04848" stroke="none" stroke-width="0.6" fill-opacity="0.82"/>
<circle cx="535.20" cy="370.20" r="2.75" fill="#e04848" stroke="none" stroke-width="0.6" fill-opacity="0.82"/>
<circle cx="536.10" cy="370.40" r="2.75" fill="#e04848" stroke="none" stroke-width="0.6" fill-opacity="0.82"/>
<circle cx="539.40" cy="375.00" r="2.75" fill="#e04848" stroke="none" stroke-width="0.6" fill-opacity="0.82"/>
<circle cx="546.40" cy="370.40" r="2.75" fill="#e04848" stroke="none" stroke-width="0.6" fill-opacity="0.82"/>
<circle cx="582.90" cy="361.80" r="2.75" fill="#e04848" stroke="none" stroke-width="0.6" fill-opacity="0.82"/>
<circle cx="588.50" cy="369.00" r="2.75" fill="#e04848" stroke="none" stroke-width="0.6" fill-opacity="0.82"/>
<circle cx="566.50" cy="307.30" r="2.75" fill="#6b7dc6" stroke="none" stroke-width="0.6" fill-opacity="0.78"/>
<circle cx="587.00" cy="307.30" r="2.75" fill="#6b7dc6" stroke="none" stroke-width="0.6" fill-opacity="0.78"/>
<circle cx="578.90" cy="327.40" r="2.75" fill="#6b7dc6" stroke="none" stroke-width="0.6" fill-opacity="0.78"/>
<circle cx="579.20" cy="327.80" r="2.75" fill="#6b7dc6" stroke="none" stroke-width="0.6" fill-opacity="0.78"/>
<circle cx="561.30" cy="331.50" r="2.75" fill="#6b7dc6" stroke="none" stroke-width="0.6" fill-opacity="0.78"/>
<circle cx="570.00" cy="331.50" r="2.75" fill="#6b7dc6" stroke="none" stroke-width="0.6" fill-opacity="0.78"/>
<circle cx="563.40" cy="341.40" r="2.75" fill="#6b7dc6" stroke="none" stroke-width="0.6" fill-opacity="0.78"/>
<circle cx="598.80" cy="342.00" r="2.75" fill="#6b7dc6" stroke="none" stroke-width="0.6" fill-opacity="0.78"/>
<circle cx="593.30" cy="353.80" r="2.75" fill="#6b7dc6" stroke="none" stroke-width="0.6" fill-opacity="0.78"/>
<circle cx="551.40" cy="370.70" r="2.75" fill="#6b7dc6" stroke="none" stroke-width="0.6" fill-opacity="0.78"/>
<circle cx="565.30" cy="367.30" r="2.75" fill="#6b7dc6" stroke="none" stroke-width="0.6" fill-opacity="0.78"/>
<circle cx="573.10" cy="371.40" r="2.75" fill="#6b7dc6" stroke="none" stroke-width="0.6" fill-opacity="0.78"/>
<circle cx="580.50" cy="369.60" r="2.75" fill="#6b7dc6" stroke="none" stroke-width="0.6" fill-opacity="0.78"/>
<circle cx="584.50" cy="366.10" r="2.75" fill="#6b7dc6" stroke="none" stroke-width="0.6" fill-opacity="0.78"/>
<circle cx="589.20" cy="361.80" r="2.75" fill="#6b7dc6" stroke="none" stroke-width="0.6" fill-opacity="0.78"/>
<circle cx="593.80" cy="361.80" r="2.75" fill="#6b7dc6" stroke="none" stroke-width="0.6" fill-opacity="0.78"/>
<circle cx="595.40" cy="366.10" r="2.75" fill="#6b7dc6" stroke="none" stroke-width="0.6" fill-opacity="0.78"/>
<circle cx="598.10" cy="365.80" r="2.75" fill="#6b7dc6" stroke="none" stroke-width="0.6" fill-opacity="0.78"/>
<circle cx="598.40" cy="369.00" r="2.75" fill="#6b7dc6" stroke="none" stroke-width="0.6" fill-opacity="0.78"/>
<circle cx="596.90" cy="376.30" r="2.75" fill="#6b7dc6" stroke="none" stroke-width="0.6" fill-opacity="0.78"/>
<circle cx="594.40" cy="379.50" r="2.75" fill="#6b7dc6" stroke="none" stroke-width="0.6" fill-opacity="0.78"/>
<circle cx="595.70" cy="379.10" r="2.75" fill="#6b7dc6" stroke="none" stroke-width="0.6" fill-opacity="0.78"/>
<circle cx="580.80" cy="382.00" r="2.75" fill="#6b7dc6" stroke="none" stroke-width="0.6" fill-opacity="0.78"/>
<circle cx="580.80" cy="383.50" r="2.75" fill="#6b7dc6" stroke="none" stroke-width="0.6" fill-opacity="0.78"/>
<circle cx="591.60" cy="406.40" r="2.75" fill="#6b7dc6" stroke="none" stroke-width="0.6" fill-opacity="0.78"/>
<circle cx="614.00" cy="307.30" r="2.75" fill="#6b7dc6" stroke="none" stroke-width="0.6" fill-opacity="0.78"/>
<circle cx="626.20" cy="309.40" r="2.75" fill="#6b7dc6" stroke="none" stroke-width="0.6" fill-opacity="0.78"/>
<circle cx="634.40" cy="309.40" r="2.75" fill="#6b7dc6" stroke="none" stroke-width="0.6" fill-opacity="0.78"/>
<circle cx="635.90" cy="309.40" r="2.75" fill="#6b7dc6" stroke="none" stroke-width="0.6" fill-opacity="0.78"/>
<circle cx="639.10" cy="309.40" r="2.75" fill="#6b7dc6" stroke="none" stroke-width="0.6" fill-opacity="0.78"/>
<circle cx="648.30" cy="309.40" r="2.75" fill="#6b7dc6" stroke="none" stroke-width="0.6" fill-opacity="0.78"/>
<circle cx="649.80" cy="307.00" r="2.75" fill="#6b7dc6" stroke="none" stroke-width="0.6" fill-opacity="0.78"/>
<circle cx="651.40" cy="309.40" r="2.75" fill="#6b7dc6" stroke="none" stroke-width="0.6" fill-opacity="0.78"/>
<circle cx="653.50" cy="309.40" r="2.75" fill="#6b7dc6" stroke="none" stroke-width="0.6" fill-opacity="0.78"/>
<circle cx="608.40" cy="324.90" r="2.75" fill="#6b7dc6" stroke="none" stroke-width="0.6" fill-opacity="0.78"/>
<circle cx="603.40" cy="331.50" r="2.75" fill="#6b7dc6" stroke="none" stroke-width="0.6" fill-opacity="0.78"/>
<circle cx="606.80" cy="331.50" r="2.75" fill="#6b7dc6" stroke="none" stroke-width="0.6" fill-opacity="0.78"/>
<circle cx="616.40" cy="331.50" r="2.75" fill="#6b7dc6" stroke="none" stroke-width="0.6" fill-opacity="0.78"/>
<circle cx="634.00" cy="331.50" r="2.75" fill="#6b7dc6" stroke="none" stroke-width="0.6" fill-opacity="0.78"/>
<circle cx="637.50" cy="331.50" r="2.75" fill="#6b7dc6" stroke="none" stroke-width="0.6" fill-opacity="0.78"/>
<circle cx="643.00" cy="331.50" r="2.75" fill="#6b7dc6" stroke="none" stroke-width="0.6" fill-opacity="0.78"/>
<circle cx="626.40" cy="335.60" r="2.75" fill="#6b7dc6" stroke="none" stroke-width="0.6" fill-opacity="0.78"/>
<circle cx="632.20" cy="335.60" r="2.75" fill="#6b7dc6" stroke="none" stroke-width="0.6" fill-opacity="0.78"/>
<circle cx="601.50" cy="341.60" r="2.75" fill="#6b7dc6" stroke="none" stroke-width="0.6" fill-opacity="0.78"/>
<circle cx="614.20" cy="341.60" r="2.75" fill="#6b7dc6" stroke="none" stroke-width="0.6" fill-opacity="0.78"/>
<circle cx="616.10" cy="342.00" r="2.75" fill="#6b7dc6" stroke="none" stroke-width="0.6" fill-opacity="0.78"/>
<circle cx="630.00" cy="342.00" r="2.75" fill="#6b7dc6" stroke="none" stroke-width="0.6" fill-opacity="0.78"/>
<circle cx="646.50" cy="341.60" r="2.75" fill="#6b7dc6" stroke="none" stroke-width="0.6" fill-opacity="0.78"/>
<circle cx="602.80" cy="347.30" r="2.75" fill="#6b7dc6" stroke="none" stroke-width="0.6" fill-opacity="0.78"/>
<circle cx="607.10" cy="347.80" r="2.75" fill="#6b7dc6" stroke="none" stroke-width="0.6" fill-opacity="0.78"/>
<circle cx="627.50" cy="353.20" r="2.75" fill="#6b7dc6" stroke="none" stroke-width="0.6" fill-opacity="0.78"/>
<circle cx="623.80" cy="356.00" r="2.75" fill="#6b7dc6" stroke="none" stroke-width="0.6" fill-opacity="0.78"/>
<circle cx="608.40" cy="361.80" r="2.75" fill="#6b7dc6" stroke="none" stroke-width="0.6" fill-opacity="0.78"/>
<circle cx="608.40" cy="369.00" r="2.75" fill="#6b7dc6" stroke="none" stroke-width="0.6" fill-opacity="0.78"/>
<circle cx="615.40" cy="364.60" r="2.75" fill="#6b7dc6" stroke="none" stroke-width="0.6" fill-opacity="0.78"/>
<circle cx="618.50" cy="366.10" r="2.75" fill="#6b7dc6" stroke="none" stroke-width="0.6" fill-opacity="0.78"/>
<circle cx="618.30" cy="368.60" r="2.75" fill="#6b7dc6" stroke="none" stroke-width="0.6" fill-opacity="0.78"/>
<circle cx="627.80" cy="366.10" r="2.75" fill="#6b7dc6" stroke="none" stroke-width="0.6" fill-opacity="0.78"/>
<circle cx="630.30" cy="368.60" r="2.75" fill="#6b7dc6" stroke="none" stroke-width="0.6" fill-opacity="0.78"/>
<circle cx="633.40" cy="366.10" r="2.75" fill="#6b7dc6" stroke="none" stroke-width="0.6" fill-opacity="0.78"/>
<circle cx="629.10" cy="381.20" r="2.75" fill="#6b7dc6" stroke="none" stroke-width="0.6" fill-opacity="0.78"/>
<circle cx="644.20" cy="381.20" r="2.75" fill="#6b7dc6" stroke="none" stroke-width="0.6" fill-opacity="0.78"/>
<circle cx="605.90" cy="406.40" r="2.75" fill="#6b7dc6" stroke="none" stroke-width="0.6" fill-opacity="0.78"/>
<rect x="517.7" y="278.5" width="154.40" height="142.30" fill="none" stroke="#b5b5b5" stroke-width="1.1"/>
<line x1="524.50" y1="420.80" x2="524.50" y2="422.80" stroke="#666" stroke-width="0.8"/>
<line x1="559.50" y1="420.80" x2="559.50" y2="422.80" stroke="#666" stroke-width="0.8"/>
<line x1="594.50" y1="420.80" x2="594.50" y2="422.80" stroke="#666" stroke-width="0.8"/>
<line x1="629.50" y1="420.80" x2="629.50" y2="422.80" stroke="#666" stroke-width="0.8"/>
<line x1="664.50" y1="420.80" x2="664.50" y2="422.80" stroke="#666" stroke-width="0.8"/>
<line x1="515.70" y1="414.90" x2="517.70" y2="414.90" stroke="#666" stroke-width="0.8"/>
<line x1="515.70" y1="382.35" x2="517.70" y2="382.35" stroke="#666" stroke-width="0.8"/>
<line x1="515.70" y1="349.80" x2="517.70" y2="349.80" stroke="#666" stroke-width="0.8"/>
<line x1="515.70" y1="317.25" x2="517.70" y2="317.25" stroke="#666" stroke-width="0.8"/>
<line x1="515.70" y1="284.70" x2="517.70" y2="284.70" stroke="#666" stroke-width="0.8"/>
<text x="514.60" y="287.70" font-size="8.5" text-anchor="end" textLength="4.70" lengthAdjust="spacingAndGlyphs" fill="#606060">2</text>
<text x="514.60" y="320.25" font-size="8.5" text-anchor="end" textLength="4.70" lengthAdjust="spacingAndGlyphs" fill="#606060">1</text>
<text x="514.60" y="352.80" font-size="8.5" text-anchor="end" textLength="4.70" lengthAdjust="spacingAndGlyphs" fill="#606060">0</text>
<text x="514.60" y="385.35" font-size="8.5" text-anchor="end" textLength="7.80" lengthAdjust="spacingAndGlyphs" fill="#606060">-1</text>
<text x="514.60" y="417.90" font-size="8.5" text-anchor="end" textLength="7.80" lengthAdjust="spacingAndGlyphs" fill="#606060">-2</text>
<text x="523.00" y="428.90" font-size="8.5" text-anchor="middle" textLength="17.60" lengthAdjust="spacingAndGlyphs" fill="#606060">-1.0</text>
<text x="558.00" y="428.90" font-size="8.5" text-anchor="middle" textLength="17.60" lengthAdjust="spacingAndGlyphs" fill="#606060">-0.5</text>
<text x="594.50" y="428.90" font-size="8.5" text-anchor="middle" textLength="12.60" lengthAdjust="spacingAndGlyphs" fill="#606060">0.0</text>
<text x="629.50" y="428.90" font-size="8.5" text-anchor="middle" textLength="12.60" lengthAdjust="spacingAndGlyphs" fill="#606060">0.5</text>
<text x="664.50" y="428.90" font-size="8.5" text-anchor="middle" textLength="12.60" lengthAdjust="spacingAndGlyphs" fill="#606060">1.0</text>
<text x="587.60" y="439.30" font-size="9.3" textLength="15.00" lengthAdjust="spacingAndGlyphs" fill="#222">PC1</text>
<text x="507.00" y="383.60" font-size="9.3" textLength="74.50" lengthAdjust="spacingAndGlyphs" transform="rotate(-90 507.00 383.60)" fill="#222">Mean size (Liu et al)</text>
<text x="508.20" y="256.70" font-size="14.2" font-weight="bold" fill="#231f20">E</text>
<circle cx="460.00" cy="445.00" r="2.6" fill="#e04848" stroke="none" stroke-width="0.6" fill-opacity="0.85"/>
<text x="464.40" y="447.80" font-size="8.9" textLength="37.90" lengthAdjust="spacingAndGlyphs" fill="#222">p38 state</text>
<circle cx="508.60" cy="445.00" r="2.6" fill="#6b7dc6" stroke="none" stroke-width="0.6" fill-opacity="0.85"/>
<text x="512.50" y="447.80" font-size="8.9" textLength="38.00" lengthAdjust="spacingAndGlyphs" fill="#222">p53 state</text>
<text x="0.00" y="519.90" font-size="14.2" font-weight="bold" fill="#231f20">F</text>
<line x1="43.20" y1="539.40" x2="43.20" y2="733.60" stroke="#868686" stroke-width="1.1"/>
<line x1="43.20" y1="733.60" x2="260.90" y2="733.60" stroke="#868686" stroke-width="1.1"/>
<line x1="41.00" y1="539.40" x2="43.20" y2="539.40" stroke="#555" stroke-width="0.9"/>
<text x="36.80" y="542.60" font-size="9.3" text-anchor="end" fill="#7f7f7f">8</text>
<line x1="41.00" y1="584.90" x2="43.20" y2="584.90" stroke="#555" stroke-width="0.9"/>
<text x="36.80" y="588.10" font-size="9.3" text-anchor="end" fill="#7f7f7f">6</text>
<line x1="41.00" y1="630.50" x2="43.20" y2="630.50" stroke="#555" stroke-width="0.9"/>
<text x="36.80" y="633.70" font-size="9.3" text-anchor="end" fill="#7f7f7f">4</text>
<line x1="41.00" y1="676.20" x2="43.20" y2="676.20" stroke="#555" stroke-width="0.9"/>
<text x="36.80" y="679.40" font-size="9.3" text-anchor="end" fill="#7f7f7f">2</text>
<line x1="41.00" y1="721.80" x2="43.20" y2="721.80" stroke="#555" stroke-width="0.9"/>
<text x="36.80" y="725.00" font-size="9.3" text-anchor="end" fill="#7f7f7f">0</text>
<line x1="43.10" y1="733.60" x2="43.10" y2="735.80" stroke="#555" stroke-width="0.9"/>
<text x="43.10" y="746.90" font-size="9.3" text-anchor="middle" fill="#7f7f7f">0</text>
<line x1="92.50" y1="733.60" x2="92.50" y2="735.80" stroke="#555" stroke-width="0.9"/>
<text x="92.50" y="746.90" font-size="9.3" text-anchor="middle" fill="#7f7f7f">5</text>
<line x1="142.20" y1="733.60" x2="142.20" y2="735.80" stroke="#555" stroke-width="0.9"/>
<text x="142.20" y="746.90" font-size="9.3" text-anchor="middle" fill="#7f7f7f">10</text>
<line x1="191.60" y1="733.60" x2="191.60" y2="735.80" stroke="#555" stroke-width="0.9"/>
<text x="191.60" y="746.90" font-size="9.3" text-anchor="middle" fill="#7f7f7f">15</text>
<line x1="240.90" y1="733.60" x2="240.90" y2="735.80" stroke="#555" stroke-width="0.9"/>
<text x="240.90" y="746.90" font-size="9.3" text-anchor="middle" fill="#7f7f7f">20</text>
<text x="134.80" y="762.00" font-size="10.6" font-weight="bold" textLength="61.80" lengthAdjust="spacingAndGlyphs" fill="#1a1a1a">Division Rate</text>
<text x="19.50" y="666.60" font-size="10.6" font-weight="bold" textLength="60.50" lengthAdjust="spacingAndGlyphs" transform="rotate(-90 19.50 666.60)" fill="#1a1a1a">Growth Rate</text>
<circle cx="171.00" cy="553.60" r="2.95" fill="#70cbe3" stroke="#1e1e1e" stroke-width="0.7"/>
<circle cx="174.80" cy="565.60" r="2.95" fill="#3b3d9c" stroke="#1e1e1e" stroke-width="0.7"/>
<circle cx="168.50" cy="567.20" r="2.95" fill="#dc2323" stroke="#1e1e1e" stroke-width="0.7"/>
<circle cx="165.90" cy="573.70" r="2.95" fill="#e9501e" stroke="#1e1e1e" stroke-width="0.7"/>
<circle cx="167.80" cy="571.70" r="2.95" fill="#f5971c" stroke="#1e1e1e" stroke-width="0.7"/>
<circle cx="183.00" cy="569.30" r="2.95" fill="#dc2323" stroke="#1e1e1e" stroke-width="0.7"/>
<circle cx="184.30" cy="576.30" r="2.95" fill="#f6e11e" stroke="#1e1e1e" stroke-width="0.7"/>
<circle cx="175.40" cy="579.20" r="2.95" fill="#4c9bd9" stroke="#1e1e1e" stroke-width="0.7"/>
<circle cx="188.60" cy="581.90" r="2.95" fill="#4c9bd9" stroke="#1e1e1e" stroke-width="0.7"/>
<circle cx="136.10" cy="579.40" r="2.95" fill="#3b3d9c" stroke="#1e1e1e" stroke-width="0.7"/>
<circle cx="144.50" cy="580.70" r="2.95" fill="#70cbe3" stroke="#1e1e1e" stroke-width="0.7"/>
<circle cx="142.70" cy="583.80" r="2.95" fill="#4a5fb7" stroke="#1e1e1e" stroke-width="0.7"/>
<circle cx="138.90" cy="587.70" r="2.95" fill="#4c9bd9" stroke="#1e1e1e" stroke-width="0.7"/>
<circle cx="157.00" cy="582.00" r="2.95" fill="#3b3d9c" stroke="#1e1e1e" stroke-width="0.7"/>
<circle cx="152.30" cy="587.70" r="2.95" fill="#3b3d9c" stroke="#1e1e1e" stroke-width="0.7"/>
<circle cx="153.20" cy="589.50" r="2.95" fill="#f5971c" stroke="#1e1e1e" stroke-width="0.7"/>
<circle cx="133.90" cy="596.30" r="2.95" fill="#4a5fb7" stroke="#1e1e1e" stroke-width="0.7"/>
<circle cx="167.70" cy="598.90" r="2.95" fill="#dc2323" stroke="#1e1e1e" stroke-width="0.7"/>
<circle cx="153.60" cy="599.60" r="2.95" fill="#4a5fb7" stroke="#1e1e1e" stroke-width="0.7"/>
<circle cx="224.40" cy="552.30" r="2.95" fill="#3b3d9c" stroke="#1e1e1e" stroke-width="0.7"/>
<circle cx="196.60" cy="569.50" r="2.95" fill="#dc2323" stroke="#1e1e1e" stroke-width="0.7"/>
<circle cx="219.90" cy="570.80" r="2.95" fill="#f6e11e" stroke="#1e1e1e" stroke-width="0.7"/>
<circle cx="228.80" cy="570.40" r="2.95" fill="#f6e11e" stroke="#1e1e1e" stroke-width="0.7"/>
<circle cx="127.90" cy="601.20" r="2.95" fill="#4c9bd9" stroke="#1e1e1e" stroke-width="0.7"/>
<circle cx="120.00" cy="605.10" r="2.95" fill="#3b3d9c" stroke="#1e1e1e" stroke-width="0.7"/>
<circle cx="141.10" cy="604.50" r="2.95" fill="#3b3d9c" stroke="#1e1e1e" stroke-width="0.7"/>
<circle cx="111.90" cy="611.50" r="2.95" fill="#e9501e" stroke="#1e1e1e" stroke-width="0.7"/>
<circle cx="119.60" cy="610.40" r="2.95" fill="#f5971c" stroke="#1e1e1e" stroke-width="0.7"/>
<circle cx="125.50" cy="611.70" r="2.95" fill="#4a5fb7" stroke="#1e1e1e" stroke-width="0.7"/>
<circle cx="129.40" cy="613.20" r="2.95" fill="#e9501e" stroke="#1e1e1e" stroke-width="0.7"/>
<circle cx="132.00" cy="613.00" r="2.95" fill="#70cbe3" stroke="#1e1e1e" stroke-width="0.7"/>
<circle cx="135.70" cy="609.40" r="2.95" fill="#4c9bd9" stroke="#1e1e1e" stroke-width="0.7"/>
<circle cx="136.90" cy="615.40" r="2.95" fill="#3b3d9c" stroke="#1e1e1e" stroke-width="0.7"/>
<circle cx="141.20" cy="616.30" r="2.95" fill="#dc2323" stroke="#1e1e1e" stroke-width="0.7"/>
<circle cx="144.30" cy="614.70" r="2.95" fill="#dc2323" stroke="#1e1e1e" stroke-width="0.7"/>
<circle cx="147.40" cy="616.30" r="2.95" fill="#dc2323" stroke="#1e1e1e" stroke-width="0.7"/>
<circle cx="125.50" cy="615.40" r="2.95" fill="#70cbe3" stroke="#1e1e1e" stroke-width="0.7"/>
<circle cx="117.60" cy="619.50" r="2.95" fill="#70cbe3" stroke="#1e1e1e" stroke-width="0.7"/>
<circle cx="129.20" cy="619.60" r="2.95" fill="#e9501e" stroke="#1e1e1e" stroke-width="0.7"/>
<circle cx="135.10" cy="622.40" r="2.95" fill="#dc2323" stroke="#1e1e1e" stroke-width="0.7"/>
<circle cx="124.00" cy="624.20" r="2.95" fill="#3b3d9c" stroke="#1e1e1e" stroke-width="0.7"/>
<circle cx="117.30" cy="628.10" r="2.95" fill="#f5971c" stroke="#1e1e1e" stroke-width="0.7"/>
<circle cx="111.90" cy="628.50" r="2.95" fill="#70cbe3" stroke="#1e1e1e" stroke-width="0.7"/>
<circle cx="101.40" cy="629.90" r="2.95" fill="#3b3d9c" stroke="#1e1e1e" stroke-width="0.7"/>
<circle cx="104.00" cy="632.50" r="2.95" fill="#dc2323" stroke="#1e1e1e" stroke-width="0.7"/>
<circle cx="99.60" cy="634.20" r="2.95" fill="#4c9bd9" stroke="#1e1e1e" stroke-width="0.7"/>
<circle cx="123.30" cy="627.70" r="2.95" fill="#3b3d9c" stroke="#1e1e1e" stroke-width="0.7"/>
<circle cx="131.20" cy="627.00" r="2.95" fill="#4c9bd9" stroke="#1e1e1e" stroke-width="0.7"/>
<circle cx="127.20" cy="632.50" r="2.95" fill="#4a5fb7" stroke="#1e1e1e" stroke-width="0.7"/>
<circle cx="114.50" cy="635.10" r="2.95" fill="#4a5fb7" stroke="#1e1e1e" stroke-width="0.7"/>
<circle cx="117.60" cy="634.20" r="2.95" fill="#e9501e" stroke="#1e1e1e" stroke-width="0.7"/>
<circle cx="123.30" cy="637.30" r="2.95" fill="#dc2323" stroke="#1e1e1e" stroke-width="0.7"/>
<circle cx="136.40" cy="632.00" r="2.95" fill="#dc2323" stroke="#1e1e1e" stroke-width="0.7"/>
<circle cx="143.00" cy="632.00" r="2.95" fill="#dc2323" stroke="#1e1e1e" stroke-width="0.7"/>
<circle cx="101.40" cy="639.50" r="2.95" fill="#4c9bd9" stroke="#1e1e1e" stroke-width="0.7"/>
<circle cx="106.20" cy="641.90" r="2.95" fill="#4c9bd9" stroke="#1e1e1e" stroke-width="0.7"/>
<circle cx="111.50" cy="643.00" r="2.95" fill="#70cbe3" stroke="#1e1e1e" stroke-width="0.7"/>
<circle cx="91.80" cy="643.00" r="2.95" fill="#4c9bd9" stroke="#1e1e1e" stroke-width="0.7"/>
<circle cx="96.10" cy="644.70" r="2.95" fill="#4c9bd9" stroke="#1e1e1e" stroke-width="0.7"/>
<circle cx="130.70" cy="640.40" r="2.95" fill="#dc2323" stroke="#1e1e1e" stroke-width="0.7"/>
<circle cx="133.80" cy="642.10" r="2.95" fill="#4c9bd9" stroke="#1e1e1e" stroke-width="0.7"/>
<circle cx="132.00" cy="644.70" r="2.95" fill="#4a5fb7" stroke="#1e1e1e" stroke-width="0.7"/>
<circle cx="141.20" cy="640.80" r="2.95" fill="#70cbe3" stroke="#1e1e1e" stroke-width="0.7"/>
<circle cx="118.90" cy="644.30" r="2.95" fill="#dc2323" stroke="#1e1e1e" stroke-width="0.7"/>
<circle cx="121.50" cy="646.50" r="2.95" fill="#dc2323" stroke="#1e1e1e" stroke-width="0.7"/>
<circle cx="113.60" cy="647.80" r="2.95" fill="#dc2323" stroke="#1e1e1e" stroke-width="0.7"/>
<circle cx="107.10" cy="648.70" r="2.95" fill="#f5971c" stroke="#1e1e1e" stroke-width="0.7"/>
<circle cx="147.40" cy="647.80" r="2.95" fill="#9c1c1f" stroke="#1e1e1e" stroke-width="0.7"/>
<circle cx="91.30" cy="647.80" r="2.95" fill="#4a5fb7" stroke="#1e1e1e" stroke-width="0.7"/>
<circle cx="147.90" cy="605.60" r="2.95" fill="#f6c21a" stroke="#1e1e1e" stroke-width="0.7"/>
<circle cx="159.10" cy="603.00" r="2.95" fill="#f6c21a" stroke="#1e1e1e" stroke-width="0.7"/>
<circle cx="164.50" cy="610.10" r="2.95" fill="#f6c21a" stroke="#1e1e1e" stroke-width="0.7"/>
<circle cx="167.20" cy="608.80" r="2.95" fill="#f6c21a" stroke="#1e1e1e" stroke-width="0.7"/>
<circle cx="151.80" cy="613.60" r="2.95" fill="#70cbe3" stroke="#1e1e1e" stroke-width="0.7"/>
<circle cx="151.40" cy="617.20" r="2.95" fill="#4a5fb7" stroke="#1e1e1e" stroke-width="0.7"/>
<circle cx="152.70" cy="622.80" r="2.95" fill="#9c1c1f" stroke="#1e1e1e" stroke-width="0.7"/>
<circle cx="156.60" cy="625.70" r="2.95" fill="#dc2323" stroke="#1e1e1e" stroke-width="0.7"/>
<circle cx="160.80" cy="637.70" r="2.95" fill="#f6c21a" stroke="#1e1e1e" stroke-width="0.7"/>
<circle cx="152.40" cy="643.40" r="2.95" fill="#dc2323" stroke="#1e1e1e" stroke-width="0.7"/>
<circle cx="63.10" cy="677.70" r="2.95" fill="#3b3d9c" stroke="#1e1e1e" stroke-width="0.7"/>
<circle cx="67.70" cy="687.30" r="2.95" fill="#3b3d9c" stroke="#1e1e1e" stroke-width="0.7"/>
<circle cx="69.90" cy="686.00" r="2.95" fill="#3b3d9c" stroke="#1e1e1e" stroke-width="0.7"/>
<circle cx="67.30" cy="692.60" r="2.95" fill="#3b3d9c" stroke="#1e1e1e" stroke-width="0.7"/>
<circle cx="65.30" cy="696.90" r="2.95" fill="#3b3d9c" stroke="#1e1e1e" stroke-width="0.7"/>
<circle cx="78.00" cy="654.70" r="2.95" fill="#3b3d9c" stroke="#1e1e1e" stroke-width="0.7"/>
<circle cx="85.70" cy="652.30" r="2.95" fill="#3b3d9c" stroke="#1e1e1e" stroke-width="0.7"/>
<circle cx="84.80" cy="658.40" r="2.95" fill="#3b3d9c" stroke="#1e1e1e" stroke-width="0.7"/>
<circle cx="81.70" cy="661.70" r="2.95" fill="#4a5fb7" stroke="#1e1e1e" stroke-width="0.7"/>
<circle cx="85.20" cy="664.10" r="2.95" fill="#4a5fb7" stroke="#1e1e1e" stroke-width="0.7"/>
<circle cx="88.70" cy="663.20" r="2.95" fill="#70cbe3" stroke="#1e1e1e" stroke-width="0.7"/>
<circle cx="89.60" cy="647.00" r="2.95" fill="#4a5fb7" stroke="#1e1e1e" stroke-width="0.7"/>
<circle cx="96.20" cy="650.30" r="2.95" fill="#4a5fb7" stroke="#1e1e1e" stroke-width="0.7"/>
<circle cx="91.80" cy="653.10" r="2.95" fill="#4c9bd9" stroke="#1e1e1e" stroke-width="0.7"/>
<circle cx="100.50" cy="640.40" r="2.95" fill="#4c9bd9" stroke="#1e1e1e" stroke-width="0.7"/>
<circle cx="96.20" cy="659.70" r="2.95" fill="#f6e11e" stroke="#1e1e1e" stroke-width="0.7"/>
<circle cx="98.80" cy="660.80" r="2.95" fill="#dc2323" stroke="#1e1e1e" stroke-width="0.7"/>
<circle cx="102.30" cy="654.50" r="2.95" fill="#70cbe3" stroke="#1e1e1e" stroke-width="0.7"/>
<circle cx="111.10" cy="653.10" r="2.95" fill="#dc2323" stroke="#1e1e1e" stroke-width="0.7"/>
<circle cx="111.90" cy="658.00" r="2.95" fill="#f6c21a" stroke="#1e1e1e" stroke-width="0.7"/>
<circle cx="104.90" cy="657.50" r="2.95" fill="#4a5fb7" stroke="#1e1e1e" stroke-width="0.7"/>
<circle cx="104.00" cy="664.50" r="2.95" fill="#f5971c" stroke="#1e1e1e" stroke-width="0.7"/>
<circle cx="100.50" cy="670.70" r="2.95" fill="#f5971c" stroke="#1e1e1e" stroke-width="0.7"/>
<circle cx="111.10" cy="663.20" r="2.95" fill="#dc2323" stroke="#1e1e1e" stroke-width="0.7"/>
<circle cx="90.00" cy="667.20" r="2.95" fill="#f5971c" stroke="#1e1e1e" stroke-width="0.7"/>
<circle cx="78.20" cy="672.00" r="2.95" fill="#4a5fb7" stroke="#1e1e1e" stroke-width="0.7"/>
<circle cx="82.20" cy="672.00" r="2.95" fill="#3b3d9c" stroke="#1e1e1e" stroke-width="0.7"/>
<circle cx="87.40" cy="672.00" r="2.95" fill="#dc2323" stroke="#1e1e1e" stroke-width="0.7"/>
<circle cx="92.70" cy="672.40" r="2.95" fill="#4a5fb7" stroke="#1e1e1e" stroke-width="0.7"/>
<circle cx="83.90" cy="676.80" r="2.95" fill="#4c9bd9" stroke="#1e1e1e" stroke-width="0.7"/>
<circle cx="90.50" cy="676.30" r="2.95" fill="#dc2323" stroke="#1e1e1e" stroke-width="0.7"/>
<circle cx="90.00" cy="680.30" r="2.95" fill="#4a5fb7" stroke="#1e1e1e" stroke-width="0.7"/>
<circle cx="93.50" cy="679.00" r="2.95" fill="#70cbe3" stroke="#1e1e1e" stroke-width="0.7"/>
<circle cx="81.70" cy="690.40" r="2.95" fill="#f6c21a" stroke="#1e1e1e" stroke-width="0.7"/>
<circle cx="123.80" cy="652.30" r="2.95" fill="#e9501e" stroke="#1e1e1e" stroke-width="0.7"/>
<circle cx="124.10" cy="660.00" r="2.95" fill="#e9501e" stroke="#1e1e1e" stroke-width="0.7"/>
<circle cx="115.90" cy="664.50" r="2.95" fill="#4c9bd9" stroke="#1e1e1e" stroke-width="0.7"/>
<circle cx="113.80" cy="662.30" r="2.95" fill="#f5971c" stroke="#1e1e1e" stroke-width="0.7"/>
<path d="M57.20,721.17 L59.17,717.25 L61.15,713.32 L63.12,709.39 L65.10,705.45 L67.07,701.50 L69.05,697.56 L71.02,693.61 L73.00,689.66 L74.97,685.72 L76.95,681.78 L78.92,677.84 L80.90,673.91 L82.87,669.98 L84.84,666.06 L86.82,662.16 L88.79,658.26 L90.77,654.38 L92.74,650.51 L94.72,646.68 L96.69,642.90 L98.67,639.17 L100.64,635.52 L102.62,631.95 L104.59,628.47 L106.57,625.11 L108.54,621.87 L110.51,618.77 L112.49,615.81 L114.46,613.02 L116.44,610.39 L118.41,607.90 L120.39,605.52 L122.36,603.23 L124.34,601.01 L126.31,598.83 L128.29,596.67 L130.26,594.51 L132.23,592.31 L134.21,590.07 L136.18,587.79 L138.16,585.47 L140.13,583.11 L142.11,580.72 L144.08,578.31 L146.06,575.88 L148.03,573.44 L150.01,571.01 L151.98,568.59 L153.96,566.18 L155.93,563.81 L157.90,561.47 L159.88,559.18 L161.85,556.94 L163.83,554.77 L165.80,552.67 L167.78,550.66 L169.75,548.73 L171.73,546.91 L173.70,545.20 L175.68,543.60 L177.65,542.13 L179.63,540.80 L181.60,539.62" fill="none" stroke="#4fa3dc" stroke-width="1.3" stroke-linecap="butt" stroke-linejoin="round"/>
<path d="M63.60,722.68 L65.58,718.31 L67.57,714.00 L69.55,709.76 L71.54,705.59 L73.52,701.48 L75.51,697.43 L77.49,693.45 L79.47,689.54 L81.46,685.68 L83.44,681.89 L85.43,678.16 L87.41,674.49 L89.40,670.87 L91.38,667.32 L93.36,663.82 L95.35,660.38 L97.33,657.00 L99.32,653.68 L101.30,650.40 L103.29,647.19 L105.27,644.02 L107.25,640.91 L109.24,637.85 L111.22,634.85 L113.21,631.89 L115.19,628.98 L117.18,626.12 L119.16,623.31 L121.14,620.55 L123.13,617.83 L125.11,615.16 L127.10,612.54 L129.08,609.96 L131.07,607.42 L133.05,604.93 L135.03,602.48 L137.02,600.07 L139.00,597.70 L140.99,595.38 L142.97,593.09 L144.96,590.84 L146.94,588.62 L148.92,586.45 L150.91,584.31 L152.89,582.21 L154.88,580.14 L156.86,578.11 L158.85,576.11 L160.83,574.14 L162.81,572.20 L164.80,570.30 L166.78,568.42 L168.77,566.58 L170.75,564.76 L172.74,562.98 L174.72,561.22 L176.70,559.49 L178.69,557.78 L180.67,556.10 L182.66,554.44 L184.64,552.81 L186.63,551.20 L188.61,549.61 L190.59,548.04 L192.58,546.50 L194.56,544.97 L196.55,543.46 L198.53,541.98 L200.52,540.51 L202.50,539.05" fill="none" stroke="#6fcad8" stroke-width="1.3" stroke-linecap="butt" stroke-linejoin="round"/>
<path d="M77.00,722.36 L78.98,718.45 L80.96,714.56 L82.93,710.71 L84.91,706.90 L86.89,703.13 L88.87,699.40 L90.85,695.71 L92.82,692.07 L94.80,688.47 L96.78,684.93 L98.76,681.44 L100.74,678.01 L102.72,674.64 L104.69,671.32 L106.67,668.08 L108.65,664.89 L110.63,661.78 L112.61,658.73 L114.58,655.76 L116.56,652.85 L118.54,650.01 L120.52,647.24 L122.50,644.53 L124.47,641.89 L126.45,639.30 L128.43,636.78 L130.41,634.32 L132.39,631.91 L134.36,629.56 L136.34,627.27 L138.32,625.03 L140.30,622.85 L142.28,620.72 L144.25,618.63 L146.23,616.60 L148.21,614.61 L150.19,612.67 L152.17,610.78 L154.15,608.93 L156.12,607.13 L158.10,605.37 L160.08,603.66 L162.06,601.98 L164.04,600.35 L166.01,598.76 L167.99,597.20 L169.97,595.68 L171.95,594.19 L173.93,592.72 L175.90,591.28 L177.88,589.87 L179.86,588.46 L181.84,587.08 L183.82,585.70 L185.79,584.33 L187.77,582.97 L189.75,581.61 L191.73,580.25 L193.71,578.88 L195.68,577.52 L197.66,576.16 L199.64,574.79 L201.62,573.42 L203.60,572.04 L205.58,570.66 L207.55,569.26 L209.53,567.86 L211.51,566.45 L213.49,565.03 L215.47,563.59 L217.44,562.15 L219.42,560.68 L221.40,559.21" fill="none" stroke="#f2e01c" stroke-width="1.3" stroke-linecap="butt" stroke-linejoin="round"/>
<path d="M83.50,722.09 L85.50,718.56 L87.49,715.00 L89.49,711.42 L91.49,707.85 L93.49,704.30 L95.48,700.79 L97.48,697.33 L99.48,693.95 L101.47,690.67 L103.47,687.50 L105.47,684.44 L107.47,681.47 L109.46,678.59 L111.46,675.78 L113.46,673.02 L115.45,670.31 L117.45,667.62 L119.45,664.96 L121.44,662.33 L123.44,659.71 L125.44,657.12 L127.44,654.56 L129.43,652.02 L131.43,649.52 L133.43,647.04 L135.42,644.59 L137.42,642.17 L139.42,639.79 L141.42,637.44 L143.41,635.13 L145.41,632.85 L147.41,630.62 L149.40,628.43 L151.40,626.29 L153.40,624.20 L155.40,622.17 L157.39,620.19 L159.39,618.27 L161.39,616.41 L163.38,614.62 L165.38,612.90 L167.38,611.25 L169.38,609.67 L171.37,608.18 L173.37,606.76 L175.37,605.41 L177.36,604.13 L179.36,602.91 L181.36,601.74 L183.36,600.61 L185.35,599.52 L187.35,598.46 L189.35,597.41 L191.34,596.38 L193.34,595.36 L195.34,594.33 L197.33,593.29 L199.33,592.24 L201.33,591.16 L203.33,590.05 L205.32,588.89 L207.32,587.69 L209.32,586.43 L211.31,585.11 L213.31,583.72 L215.31,582.25 L217.31,580.69 L219.30,579.04 L221.30,577.29" fill="none" stroke="#f4a01e" stroke-width="1.3" stroke-linecap="butt" stroke-linejoin="round"/>
<path d="M70.30,722.28 L72.28,718.27 L74.27,714.21 L76.25,710.12 L78.23,706.02 L80.21,701.93 L82.20,697.86 L84.18,693.83 L86.16,689.86 L88.15,685.96 L90.13,682.14 L92.11,678.44 L94.09,674.85 L96.08,671.38 L98.06,668.01 L100.04,664.75 L102.03,661.59 L104.01,658.52 L105.99,655.54 L107.98,652.64 L109.96,649.82 L111.94,647.07 L113.92,644.39 L115.91,641.77 L117.89,639.19 L119.87,636.67 L121.86,634.19 L123.84,631.74 L125.82,629.31 L127.80,626.91 L129.79,624.53 L131.77,622.15 L133.75,619.78 L135.74,617.40 L137.72,615.02 L139.70,612.62 L141.68,610.20 L143.67,607.75 L145.65,605.29 L147.63,602.84 L149.62,600.41 L151.60,598.02 L153.58,595.68 L155.56,593.41 L157.55,591.22 L159.53,589.13 L161.51,587.16 L163.50,585.30 L165.48,583.56 L167.46,581.91 L169.44,580.33 L171.43,578.82 L173.41,577.35 L175.39,575.92 L177.38,574.50 L179.36,573.09 L181.34,571.67 L183.32,570.24 L185.31,568.82 L187.29,567.38 L189.27,565.94 L191.26,564.50 L193.24,563.04 L195.22,561.59 L197.21,560.12 L199.19,558.64 L201.17,557.16 L203.15,555.67 L205.14,554.16 L207.12,552.65 L209.10,551.13 L211.09,549.59 L213.07,548.04 L215.05,546.49 L217.03,544.91 L219.02,543.33 L221.00,541.73" fill="none" stroke="#000" stroke-width="2.6" stroke-linecap="butt" stroke-linejoin="round"/>
<defs>
<linearGradient id="jetF" x1="0" y1="0" x2="0" y2="1">
<stop offset="0" stop-color="#7f1517"/><stop offset="0.04" stop-color="#a31b1e"/><stop offset="0.09" stop-color="#d42124"/>
<stop offset="0.17" stop-color="#dd2a22"/><stop offset="0.23" stop-color="#ea5a1f"/><stop offset="0.29" stop-color="#f5961c"/>
<stop offset="0.35" stop-color="#f8c51a"/><stop offset="0.41" stop-color="#f1e01c"/><stop offset="0.46" stop-color="#c6d633"/>
<stop offset="0.52" stop-color="#8fc688"/><stop offset="0.58" stop-color="#73c7cf"/><stop offset="0.64" stop-color="#66c2e6"/>
<stop offset="0.70" stop-color="#4a98d6"/><stop offset="0.75" stop-color="#3d6fbd"/><stop offset="0.82" stop-color="#3f4fa8"/>
<stop offset="0.92" stop-color="#393f98"/><stop offset="1" stop-color="#2e2a84"/>
</linearGradient>
<linearGradient id="jetG" x1="0" y1="0" x2="0" y2="1">
<stop offset="0" stop-color="#7f1517"/><stop offset="0.05" stop-color="#a31b1e"/><stop offset="0.1" stop-color="#d42124"/>
<stop offset="0.17" stop-color="#dd2a22"/><stop offset="0.23" stop-color="#ea5a1f"/><stop offset="0.29" stop-color="#f5961c"/>
<stop offset="0.35" stop-color="#f8c51a"/><stop offset="0.41" stop-color="#f1e01c"/><stop offset="0.46" stop-color="#c6d633"/>
<stop offset="0.52" stop-color="#8fc688"/><stop offset="0.58" stop-color="#73c7cf"/><stop offset="0.64" stop-color="#66c2e6"/>
<stop offset="0.70" stop-color="#4a98d6"/><stop offset="0.75" stop-color="#3d6fbd"/><stop offset="0.82" stop-color="#3f4fa8"/>
<stop offset="0.92" stop-color="#393f98"/><stop offset="1" stop-color="#2e2a84"/>
</linearGradient>
</defs>
<rect x="266.9" y="539.0" width="12.6" height="194.6" fill="url(#jetF)" stroke="#3a3a3a" stroke-width="0.6"/>
<line x1="278.00" y1="555.50" x2="279.50" y2="555.50" stroke="#222" stroke-width="0.8"/>
<text x="282.80" y="558.40" font-size="8.4" textLength="12.90" lengthAdjust="spacingAndGlyphs" fill="#6a6a6a">0.8</text>
<line x1="278.00" y1="575.50" x2="279.50" y2="575.50" stroke="#222" stroke-width="0.8"/>
<text x="282.80" y="578.40" font-size="8.4" textLength="12.90" lengthAdjust="spacingAndGlyphs" fill="#6a6a6a">0.6</text>
<line x1="278.00" y1="595.50" x2="279.50" y2="595.50" stroke="#222" stroke-width="0.8"/>
<text x="282.80" y="598.40" font-size="8.4" textLength="12.90" lengthAdjust="spacingAndGlyphs" fill="#6a6a6a">0.4</text>
<line x1="278.00" y1="615.70" x2="279.50" y2="615.70" stroke="#222" stroke-width="0.8"/>
<text x="282.80" y="618.60" font-size="8.4" textLength="12.90" lengthAdjust="spacingAndGlyphs" fill="#6a6a6a">0.2</text>
<line x1="278.00" y1="635.70" x2="279.50" y2="635.70" stroke="#222" stroke-width="0.8"/>
<text x="282.80" y="638.60" font-size="8.4" textLength="5.00" lengthAdjust="spacingAndGlyphs" fill="#6a6a6a">0</text>
<line x1="278.00" y1="656.00" x2="279.50" y2="656.00" stroke="#222" stroke-width="0.8"/>
<text x="282.80" y="658.90" font-size="8.4" textLength="16.10" lengthAdjust="spacingAndGlyphs" fill="#6a6a6a">-0.2</text>
<line x1="278.00" y1="675.90" x2="279.50" y2="675.90" stroke="#222" stroke-width="0.8"/>
<text x="282.80" y="678.80" font-size="8.4" textLength="16.10" lengthAdjust="spacingAndGlyphs" fill="#6a6a6a">-0.4</text>
<line x1="278.00" y1="695.90" x2="279.50" y2="695.90" stroke="#222" stroke-width="0.8"/>
<text x="282.80" y="698.80" font-size="8.4" textLength="16.10" lengthAdjust="spacingAndGlyphs" fill="#6a6a6a">-0.6</text>
<line x1="278.00" y1="715.90" x2="279.50" y2="715.90" stroke="#222" stroke-width="0.8"/>
<text x="282.80" y="718.80" font-size="8.4" textLength="16.10" lengthAdjust="spacingAndGlyphs" fill="#6a6a6a">-0.8</text>
<text x="0.10" y="781.60" font-size="14.2" font-weight="bold" fill="#231f20">G</text>
<rect x="36.5" y="781.4" width="88.20" height="71.20" fill="none" stroke="#9a9a9a" stroke-width="0.9"/>
<line x1="36.50" y1="781.40" x2="36.50" y2="852.60" stroke="#7a7a7a" stroke-width="1.1"/>
<line x1="36.50" y1="852.60" x2="124.70" y2="852.60" stroke="#7a7a7a" stroke-width="1.1"/>
<line x1="34.30" y1="781.40" x2="36.50" y2="781.40" stroke="#444" stroke-width="0.9"/>
<text x="31.20" y="784.40" font-size="8.6" text-anchor="end" textLength="10.20" lengthAdjust="spacingAndGlyphs" fill="#7f7f7f">10</text>
<line x1="34.30" y1="817.00" x2="36.50" y2="817.00" stroke="#444" stroke-width="0.9"/>
<text x="31.20" y="820.00" font-size="8.6" text-anchor="end" textLength="5.10" lengthAdjust="spacingAndGlyphs" fill="#7f7f7f">5</text>
<line x1="34.30" y1="852.60" x2="36.50" y2="852.60" stroke="#444" stroke-width="0.9"/>
<text x="31.20" y="855.60" font-size="8.6" text-anchor="end" textLength="5.10" lengthAdjust="spacingAndGlyphs" fill="#7f7f7f">0</text>
<line x1="80.60" y1="852.60" x2="80.60" y2="854.60" stroke="#444" stroke-width="0.9"/>
<line x1="124.60" y1="852.60" x2="124.60" y2="854.60" stroke="#444" stroke-width="0.9"/>
<text x="39.00" y="867.00" font-size="8.6" text-anchor="middle" textLength="5.10" lengthAdjust="spacingAndGlyphs" fill="#7f7f7f">0</text>
<text x="81.60" y="867.00" font-size="8.6" text-anchor="middle" textLength="9.80" lengthAdjust="spacingAndGlyphs" fill="#7f7f7f">10</text>
<text x="125.20" y="867.00" font-size="8.6" text-anchor="middle" textLength="9.80" lengthAdjust="spacingAndGlyphs" fill="#7f7f7f">20</text>
<text x="21.80" y="849.30" font-size="10.6" font-weight="bold" textLength="59.60" lengthAdjust="spacingAndGlyphs" transform="rotate(-90 21.80 849.30)" fill="#1a1a1a">Growth Rate</text>
<text x="50.00" y="882.60" font-size="10.6" font-weight="bold" textLength="61.20" lengthAdjust="spacingAndGlyphs" fill="#1a1a1a">Division Rate</text>
<text x="41.40" y="794.10" font-size="9.6" font-weight="bold" textLength="17.60" lengthAdjust="spacingAndGlyphs" fill="#1a1a1a">p38</text>
<clipPath id="p38clip"><polygon points="41.50,841.50 42.70,838.50 45.10,836.00 50.00,831.50 55.30,827.30 60.00,823.00 65.50,818.10 72.60,811.70 77.30,807.50 83.60,803.90 92.00,799.70 95.60,798.90 100.40,798.90 103.00,801.80 105.10,806.00 104.60,809.10 100.40,814.40 95.60,819.10 91.40,824.40 87.80,828.60 84.80,831.50 82.50,832.60 77.30,834.60 73.20,837.30 65.50,840.90 55.30,844.70 45.10,847.80 43.00,847.20 41.50,845.00"/></clipPath>
<g clip-path="url(#p38clip)">
<polygon points="10.00,780.00 30.00,780.00 120.00,780.00 140.00,780.00 140.00,870.00 20.00,870.00" fill="#2f2f82" stroke="none" stroke-width="1"/>
<polygon points="30.00,829.00 50.00,829.00 57.90,824.90 63.80,821.90 69.60,819.00 75.40,815.50 79.50,812.00 81.90,808.50 83.00,805.60 84.50,800.00 86.00,794.00 106.00,794.00 140.00,870.00 20.00,870.00" fill="#3b48a3" stroke="none" stroke-width="1"/>
<polygon points="25.00,833.00 45.00,833.00 55.00,827.50 66.70,823.10 78.40,817.90 87.10,812.00 91.00,808.00 95.00,803.80 97.00,798.00 98.00,794.00 118.00,794.00 140.00,870.00 20.00,870.00" fill="#4266b4" stroke="none" stroke-width="1"/>
<polygon points="22.00,835.50 42.00,835.50 55.00,829.80 66.70,825.40 78.40,820.20 87.10,814.40 95.00,806.80 99.00,801.00 101.00,794.00 121.00,794.00 140.00,870.00 20.00,870.00" fill="#5fb9e2" stroke="none" stroke-width="1"/>
<polygon points="18.00,840.00 38.00,840.00 45.10,837.50 55.30,833.30 66.70,827.80 78.40,822.50 87.10,817.30 95.00,810.30 100.00,805.00 104.00,798.00 124.00,798.00 140.00,870.00 20.00,870.00" fill="#80c9ae" stroke="none" stroke-width="1"/>
<polygon points="18.00,843.50 38.00,843.50 45.10,840.60 55.30,836.30 66.70,830.50 78.40,824.80 87.10,819.60 95.00,812.80 100.00,809.00 106.00,803.00 126.00,803.00 140.00,870.00 20.00,870.00" fill="#c2d82e" stroke="none" stroke-width="1"/>
<polygon points="18.00,846.50 38.00,846.50 45.10,843.70 55.30,839.40 66.70,833.30 78.40,827.20 87.10,822.00 95.00,815.50 100.00,812.00 108.00,806.00 128.00,806.00 140.00,870.00 20.00,870.00" fill="#f8e01b" stroke="none" stroke-width="1"/>
<polygon points="18.00,849.50 38.00,849.50 45.10,846.70 55.30,842.50 66.70,836.00 78.40,829.60 87.10,824.30 95.00,818.00 100.00,815.00 108.00,810.00 128.00,810.00 140.00,870.00 20.00,870.00" fill="#f7b11c" stroke="none" stroke-width="1"/>
<polygon points="18.00,851.00 38.00,851.00 45.10,848.50 55.30,844.50 66.70,838.00 78.40,831.30 87.10,826.10 95.00,819.50 105.00,812.00 125.00,812.00 140.00,870.00 20.00,870.00" fill="#ec5a1f" stroke="none" stroke-width="1"/>
<polygon points="18.00,856.00 38.00,856.00 55.30,848.00 66.70,840.50 78.40,833.00 87.10,827.60 95.00,821.00 105.00,814.00 125.00,814.00 140.00,870.00 20.00,870.00" fill="#d42324" stroke="none" stroke-width="1"/>
</g>
<rect x="130.3" y="781.4" width="12.5" height="71.0" fill="url(#jetG)" stroke="#3a3a3a" stroke-width="0.6"/>
<line x1="141.60" y1="789.00" x2="142.80" y2="789.00" stroke="#222" stroke-width="0.8"/>
<text x="146.60" y="791.90" font-size="8.4" textLength="17.50" lengthAdjust="spacingAndGlyphs" fill="#6a6a6a">0.06</text>
<line x1="141.60" y1="805.10" x2="142.80" y2="805.10" stroke="#222" stroke-width="0.8"/>
<text x="146.60" y="808.00" font-size="8.4" textLength="17.50" lengthAdjust="spacingAndGlyphs" fill="#6a6a6a">0.04</text>
<line x1="141.60" y1="821.40" x2="142.80" y2="821.40" stroke="#222" stroke-width="0.8"/>
<text x="146.60" y="824.30" font-size="8.4" textLength="17.50" lengthAdjust="spacingAndGlyphs" fill="#6a6a6a">0.02</text>
<line x1="141.60" y1="837.50" x2="142.80" y2="837.50" stroke="#222" stroke-width="0.8"/>
<text x="146.60" y="840.40" font-size="8.4" textLength="4.80" lengthAdjust="spacingAndGlyphs" fill="#6a6a6a">0</text>
<rect x="198.2" y="780.5" width="89.50" height="71.90" fill="none" stroke="#9a9a9a" stroke-width="0.9"/>
<line x1="198.20" y1="780.50" x2="198.20" y2="852.40" stroke="#7a7a7a" stroke-width="1.1"/>
<line x1="198.20" y1="852.40" x2="287.70" y2="852.40" stroke="#7a7a7a" stroke-width="1.1"/>
<line x1="196.00" y1="780.50" x2="198.20" y2="780.50" stroke="#444" stroke-width="0.9"/>
<text x="193.60" y="783.50" font-size="8.6" text-anchor="end" textLength="10.00" lengthAdjust="spacingAndGlyphs" fill="#7f7f7f">10</text>
<line x1="196.00" y1="816.50" x2="198.20" y2="816.50" stroke="#444" stroke-width="0.9"/>
<text x="193.60" y="819.50" font-size="8.6" text-anchor="end" textLength="5.10" lengthAdjust="spacingAndGlyphs" fill="#7f7f7f">5</text>
<line x1="196.00" y1="852.30" x2="198.20" y2="852.30" stroke="#444" stroke-width="0.9"/>
<text x="193.60" y="855.30" font-size="8.6" text-anchor="end" textLength="5.10" lengthAdjust="spacingAndGlyphs" fill="#7f7f7f">0</text>
<line x1="243.20" y1="852.40" x2="243.20" y2="854.40" stroke="#444" stroke-width="0.9"/>
<line x1="287.70" y1="852.40" x2="287.70" y2="854.40" stroke="#444" stroke-width="0.9"/>
<text x="201.50" y="866.80" font-size="8.6" text-anchor="middle" textLength="5.10" lengthAdjust="spacingAndGlyphs" fill="#7f7f7f">0</text>
<text x="244.20" y="866.80" font-size="8.6" text-anchor="middle" textLength="9.80" lengthAdjust="spacingAndGlyphs" fill="#7f7f7f">10</text>
<text x="288.40" y="866.80" font-size="8.6" text-anchor="middle" textLength="9.80" lengthAdjust="spacingAndGlyphs" fill="#7f7f7f">20</text>
<text x="184.80" y="848.60" font-size="10.6" font-weight="bold" textLength="59.60" lengthAdjust="spacingAndGlyphs" transform="rotate(-90 184.80 848.60)" fill="#1a1a1a">Growth Rate</text>
<text x="212.20" y="882.60" font-size="10.6" font-weight="bold" textLength="61.80" lengthAdjust="spacingAndGlyphs" fill="#1a1a1a">Division Rate</text>
<text x="204.10" y="793.60" font-size="9.6" font-weight="bold" textLength="17.60" lengthAdjust="spacingAndGlyphs" fill="#1a1a1a">p53</text>
<clipPath id="p53clip"><polygon points="205.40,846.50 203.30,843.30 203.80,839.10 210.60,833.60 221.10,825.00 242.10,810.80 252.70,806.00 262.10,805.00 265.30,808.70 267.90,813.90 265.30,817.60 256.90,825.50 247.40,831.80 237.90,836.50 225.30,841.20 208.50,847.00"/></clipPath>
<g clip-path="url(#p53clip)">
<polygon points="205.40,846.50 203.30,843.30 203.80,839.10 210.60,833.60 221.10,825.00 242.10,810.80 252.70,806.00 262.10,805.00 265.30,808.70 267.90,813.90 265.30,817.60 256.90,825.50 247.40,831.80 237.90,836.50 225.30,841.20 208.50,847.00" fill="#88cba2" stroke="none" stroke-width="1"/>
<polygon points="200.00,830.00 215.00,820.00 242.00,804.00 262.00,800.00 272.00,800.00 272.00,805.60 262.10,806.10 255.80,808.70 249.50,810.80 246.90,813.40 244.80,818.10 242.10,822.30 237.90,825.50 229.50,828.60 219.00,831.80 210.10,834.60 200.00,837.00" fill="#f3dc1e" stroke="#222" stroke-width="0.5"/>
<polygon points="215.00,818.00 244.00,806.00 242.80,811.60 241.60,815.80 239.00,819.00 234.40,822.10 227.80,824.60 221.10,825.90 215.00,828.00" fill="#e2321f" stroke="#222" stroke-width="0.5"/>
<polygon points="226.00,816.00 244.00,806.00 242.60,811.00 241.40,813.00 239.60,815.20 236.50,817.20 231.90,819.30 228.00,821.30 225.00,823.00" fill="#a11a1a" stroke="#222" stroke-width="0.4"/>
<polygon points="224.00,843.00 225.30,841.20 233.90,835.00 238.00,830.50 243.10,825.40 246.70,822.40 250.00,819.60 254.80,817.10 261.10,815.50 267.40,813.90 275.00,812.00 275.00,850.00 220.00,850.00" fill="#3d7fc7" stroke="#222" stroke-width="0.5"/>
<polygon points="236.00,838.00 237.20,836.00 240.20,832.40 244.30,828.80 249.40,825.20 254.50,823.20 258.60,822.20 260.50,822.60 262.00,826.00 262.00,850.00 236.00,850.00" fill="#393d9e" stroke="#222" stroke-width="0.5"/>
</g>
<rect x="292.6" y="781.0" width="12.4" height="71.0" fill="url(#jetG)" stroke="#3a3a3a" stroke-width="0.6"/>
<line x1="303.80" y1="793.60" x2="305.00" y2="793.60" stroke="#222" stroke-width="0.8"/>
<text x="308.60" y="796.50" font-size="8.4" textLength="4.80" lengthAdjust="spacingAndGlyphs" fill="#6a6a6a">0</text>
<line x1="303.80" y1="820.70" x2="305.00" y2="820.70" stroke="#222" stroke-width="0.8"/>
<text x="308.60" y="823.60" font-size="8.4" textLength="20.90" lengthAdjust="spacingAndGlyphs" fill="#6a6a6a">-0.02</text>
<line x1="303.80" y1="845.90" x2="305.00" y2="845.90" stroke="#222" stroke-width="0.8"/>
<text x="308.60" y="848.80" font-size="8.4" textLength="20.90" lengthAdjust="spacingAndGlyphs" fill="#6a6a6a">-0.04</text>
<text x="321.10" y="519.80" font-size="14.2" font-weight="bold" fill="#231f20">H</text>
<polygon points="378.05,557.00 382.95,557.00 382.95,571.20 385.85,571.20 380.50,576.30 375.15,571.20 378.05,571.20" fill="#4672c4" stroke="none" stroke-width="1"/>
<polygon points="601.05,557.00 605.95,557.00 605.95,571.20 608.85,571.20 603.50,576.30 598.15,571.20 601.05,571.20" fill="#d8232a" stroke="none" stroke-width="1"/>
<polygon points="378.05,621.30 382.95,621.30 382.95,635.50 385.85,635.50 380.50,640.60 375.15,635.50 378.05,635.50" fill="#4672c4" stroke="none" stroke-width="1"/>
<polygon points="601.05,621.30 605.95,621.30 605.95,635.50 608.85,635.50 603.50,640.60 598.15,635.50 601.05,635.50" fill="#d8232a" stroke="none" stroke-width="1"/>
<polygon points="378.05,670.60 382.95,670.60 382.95,684.80 385.85,684.80 380.50,689.90 375.15,684.80 378.05,684.80" fill="#4672c4" stroke="none" stroke-width="1"/>
<polygon points="601.05,670.60 605.95,670.60 605.95,684.80 608.85,684.80 603.50,689.90 598.15,684.80 601.05,684.80" fill="#d8232a" stroke="none" stroke-width="1"/>
<text x="342.70" y="537.70" font-size="10.4" textLength="73.00" lengthAdjust="spacingAndGlyphs" fill="#1c1c1c">Drugs that slow</text>
<text x="333.10" y="550.40" font-size="10.4" textLength="92.80" lengthAdjust="spacingAndGlyphs" fill="#1c1c1c">rates of cell division</text>
<text x="351.50" y="586.30" font-size="10.4" textLength="58.00" lengthAdjust="spacingAndGlyphs" fill="#36458f">Slower rates</text>
<text x="366.40" y="600.00" font-size="10.4" textLength="28.00" lengthAdjust="spacingAndGlyphs" fill="#36458f">of cell</text>
<text x="362.70" y="613.30" font-size="10.4" textLength="35.80" lengthAdjust="spacingAndGlyphs" fill="#36458f">division</text>
<text x="349.40" y="652.90" font-size="10.4" textLength="62.20" lengthAdjust="spacingAndGlyphs" fill="#36458f">Cells become</text>
<text x="363.70" y="666.20" font-size="10.4" textLength="33.80" lengthAdjust="spacingAndGlyphs" fill="#36458f">too big</text>
<text x="565.60" y="537.70" font-size="10.4" textLength="73.40" lengthAdjust="spacingAndGlyphs" fill="#1c1c1c">Drugs that slow</text>
<text x="558.10" y="550.40" font-size="10.4" textLength="90.90" lengthAdjust="spacingAndGlyphs" fill="#1c1c1c">rates of cell growth</text>
<text x="574.40" y="586.30" font-size="10.4" textLength="58.30" lengthAdjust="spacingAndGlyphs" fill="#de2a2e">Slower rates</text>
<text x="589.40" y="600.00" font-size="10.4" textLength="28.30" lengthAdjust="spacingAndGlyphs" fill="#de2a2e">of cell</text>
<text x="586.70" y="613.30" font-size="10.4" textLength="33.70" lengthAdjust="spacingAndGlyphs" fill="#de2a2e">growth</text>
<text x="572.40" y="652.90" font-size="10.4" textLength="62.10" lengthAdjust="spacingAndGlyphs" fill="#de2a2e">Cells become</text>
<text x="582.00" y="666.20" font-size="10.4" textLength="43.30" lengthAdjust="spacingAndGlyphs" fill="#de2a2e">too small</text>
<rect x="344.1" y="700.0" width="73.0" height="32.6" fill="#2b2f6e"/>
<rect x="567.1" y="700.0" width="72.9" height="32.6" fill="#d42225"/>
<text x="349.80" y="713.20" font-size="10.4" textLength="61.80" lengthAdjust="spacingAndGlyphs" fill="#fff">p53 signaling</text>
<text x="368.80" y="726.50" font-size="10.4" textLength="23.30" lengthAdjust="spacingAndGlyphs" fill="#fff">state</text>
<text x="572.80" y="713.20" font-size="10.4" textLength="61.70" lengthAdjust="spacingAndGlyphs" fill="#fff">p38 signaling</text>
<text x="592.20" y="726.50" font-size="10.4" textLength="23.30" lengthAdjust="spacingAndGlyphs" fill="#fff">state</text>
<path d="M567.2,715.9 C549.23,717.45 490.36,694.18 494,656 C496.25,636.35 457.97,598.57 427.5,597.1" fill="none" stroke="#d8232a" stroke-width="1.6"/>
<path d="M416.9,715.9 C455.8,715.91 495.65,686.25 494,656 C495.69,613.72 542.8,596.83 562.5,596.9" fill="none" stroke="#2b2f6e" stroke-width="1.6"/>
<polygon points="423.00,596.80 428.68,595.00 428.27,599.58" fill="#d8232a" stroke="none" stroke-width="1"/>
<polygon points="567.00,596.70 561.64,599.30 561.38,594.71" fill="#2b2f6e" stroke="none" stroke-width="1"/>
</svg>
</body></html>
